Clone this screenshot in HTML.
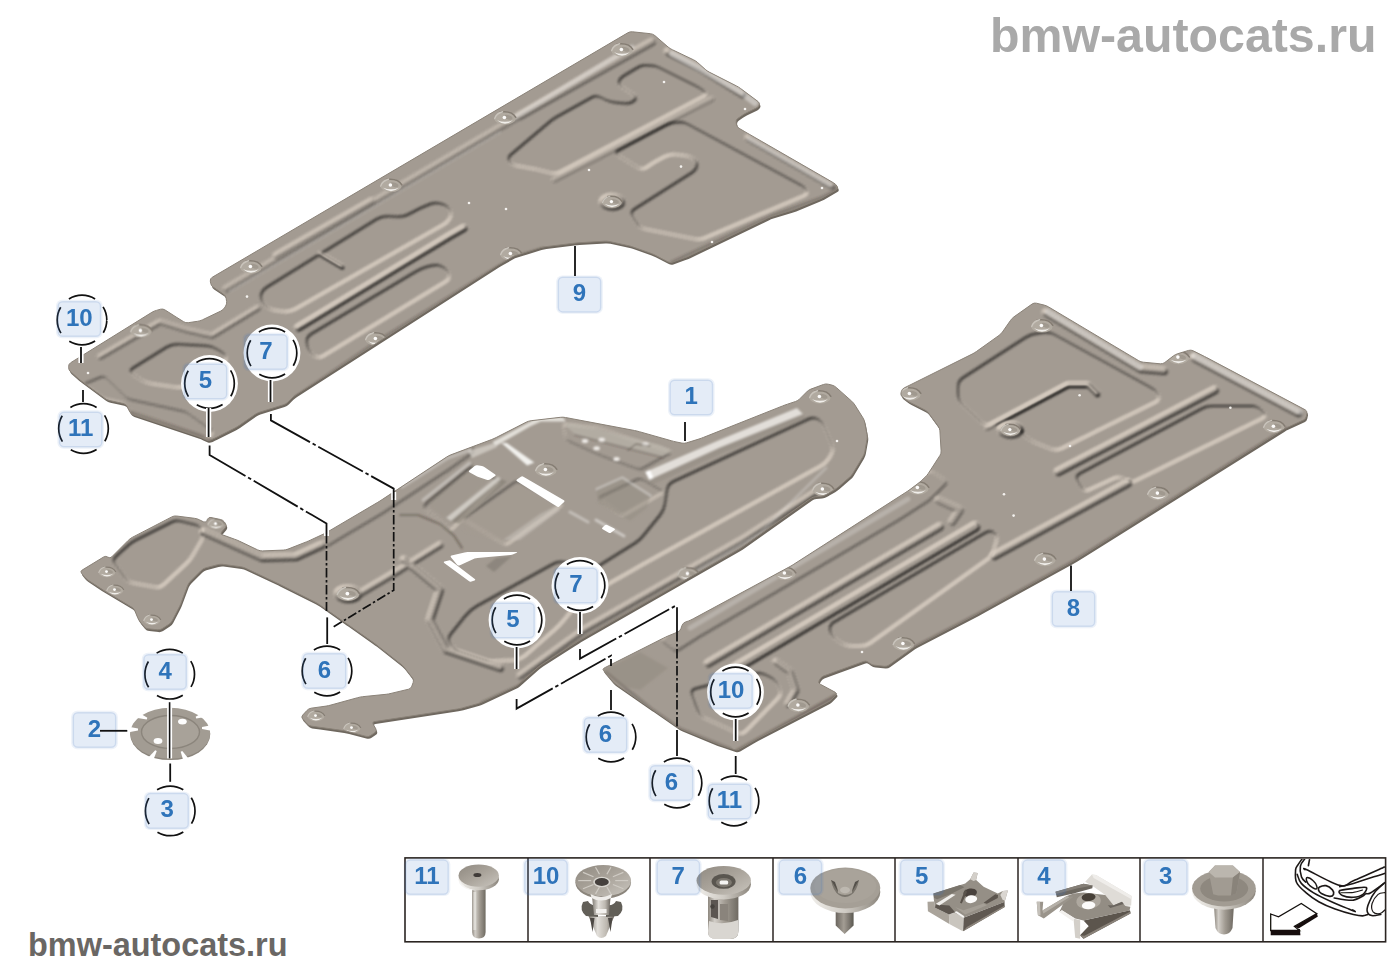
<!DOCTYPE html>
<html><head><meta charset="utf-8"><title>bmw-autocats.ru</title>
<style>
html,body{margin:0;padding:0;background:#fff;}
body{width:1400px;height:980px;overflow:hidden;position:relative;font-family:"Liberation Sans",sans-serif;}
svg{position:absolute;left:0;top:0;display:block}
.lb{font-family:"Liberation Sans",sans-serif;font-weight:bold;font-size:24px;fill:#2f74ba;text-anchor:middle;}
.wm1{position:absolute;left:990px;top:6.7px;font:bold 48.3px/56px "Liberation Sans",sans-serif;color:#a9a9a9;letter-spacing:0px;white-space:nowrap}
.wm2{position:absolute;left:28px;top:926.5px;font:bold 32.45px/36px "Liberation Sans",sans-serif;color:#6a6764;white-space:nowrap}
</style></head><body>
<svg width="1400" height="980" viewBox="0 0 1400 980">
<defs>
<filter id="emb" x="0" y="0" width="1400" height="980" filterUnits="userSpaceOnUse" color-interpolation-filters="sRGB">
<feColorMatrix in="SourceGraphic" type="luminanceToAlpha" result="lum"/>
<feGaussianBlur in="lum" stdDeviation="1.5" result="h"/>
<feDiffuseLighting in="h" surfaceScale="7" diffuseConstant="1.3" lighting-color="#a49c93" result="lit"><feDistantLight azimuth="235" elevation="50"/></feDiffuseLighting>
<feGaussianBlur in="lit" stdDeviation="0.5"/>
</filter>

<linearGradient id="gShaft" x1="0" x2="1" y1="0" y2="0"><stop offset="0" stop-color="#8d877e"/><stop offset="0.22" stop-color="#d2cec8"/><stop offset="0.55" stop-color="#a29c93"/><stop offset="1" stop-color="#6f6a62"/></linearGradient>
<linearGradient id="gHead" x1="0" x2="1" y1="0" y2="1"><stop offset="0" stop-color="#8f8980"/><stop offset="0.5" stop-color="#aaa49b"/><stop offset="1" stop-color="#c9c5be"/></linearGradient>
<linearGradient id="gRim" x1="0" x2="1" y1="0" y2="0"><stop offset="0" stop-color="#f0eeea"/><stop offset="0.5" stop-color="#cfcbc4"/><stop offset="1" stop-color="#8c867d"/></linearGradient>
<linearGradient id="gCone" x1="0" x2="1" y1="0" y2="0"><stop offset="0" stop-color="#77726a"/><stop offset="0.35" stop-color="#e2dfda"/><stop offset="0.7" stop-color="#bdb8b0"/><stop offset="1" stop-color="#66615a"/></linearGradient>
<linearGradient id="gDark" x1="0" x2="1" y1="0" y2="0"><stop offset="0" stop-color="#6a655e"/><stop offset="0.45" stop-color="#a39d94"/><stop offset="1" stop-color="#5c5851"/></linearGradient>
<filter id="soft" x="-5%" y="-5%" width="110%" height="110%"><feGaussianBlur stdDeviation="0.55"/></filter>
<filter id="soft2" x="-5%" y="-5%" width="110%" height="110%"><feGaussianBlur stdDeviation="1.0"/></filter>
</defs>
<rect width="1400" height="980" fill="#fff"/>
<g id="p9"><clipPath id="c9"><path d="M627.8,32.8 Q630.0,31.5 632.5,31.8 L650.5,33.7 Q653.0,34.0 654.9,35.6 L668.1,47.0 Q670.0,48.6 672.3,49.7 L693.7,59.9 Q696.0,61.0 697.8,62.7 L705.2,69.3 Q707.0,71.0 709.2,72.1 L736.4,85.9 Q738.6,87.0 740.6,88.5 L758.0,101.5 Q760.0,103.0 759.3,105.0 L759.3,105.0 Q758.6,107.0 756.3,108.1 L746.3,112.9 Q744.0,114.0 742.0,115.5 L737.7,118.5 Q735.7,120.0 736.2,122.5 L736.5,124.5 Q737.0,127.0 739.1,128.3 L744.9,131.7 Q747.0,133.0 749.2,134.2 L833.5,182.8 Q835.7,184.0 837.0,186.1 L837.3,186.5 Q838.6,188.6 836.4,189.8 L823.2,197.4 Q821.0,198.6 818.7,199.5 L795.3,209.1 Q793.0,210.0 790.6,210.7 L772.4,216.3 Q770.0,217.0 767.7,218.1 L689.3,255.9 Q687.0,257.0 684.6,257.8 L672.4,262.2 Q670.0,263.0 667.8,261.8 L655.2,255.2 Q653.0,254.0 650.6,253.2 L632.4,246.8 Q630.0,246.0 627.6,245.5 L609.4,241.5 Q607.0,241.0 604.5,241.2 L578.5,242.8 Q576.0,243.0 573.5,243.3 L545.5,246.7 Q543.0,247.0 540.6,247.7 L516.4,255.3 Q514.0,256.0 511.8,257.2 L502.2,262.8 Q500.0,264.0 497.9,265.3 L296.1,394.7 Q294.0,396.0 292.2,397.8 L287.8,402.2 Q286.0,404.0 283.6,404.7 L259.4,412.3 Q257.0,413.0 255.0,414.4 L239.0,425.6 Q237.0,427.0 234.8,428.1 L216.2,437.5 Q214.0,438.6 211.7,439.6 L210.9,440.0 Q208.6,441.0 206.3,439.9 L202.3,438.1 Q200.0,437.0 197.6,436.2 L133.4,414.8 Q131.0,414.0 129.8,411.8 L126.9,406.2 Q125.7,404.0 123.3,403.5 L109.4,400.5 Q107.0,400.0 105.0,398.5 L82.0,381.5 Q80.0,380.0 78.1,378.4 L70.5,371.6 Q68.6,370.0 68.6,367.5 L68.6,366.5 Q68.6,364.0 70.7,362.7 L151.9,312.3 Q154.0,311.0 156.4,310.4 L160.6,309.2 Q163.0,308.6 165.1,310.0 L171.9,314.3 Q174.0,315.7 176.1,317.0 L183.6,321.7 Q185.7,323.0 188.2,322.7 L197.5,321.3 Q200.0,321.0 202.3,319.9 L220.7,311.1 Q223.0,310.0 224.4,307.9 L225.6,306.1 Q227.0,304.0 226.6,301.5 L226.1,298.2 Q225.7,295.7 223.6,294.3 L213.1,287.1 Q211.0,285.7 210.7,283.2 L210.3,281.1 Q210.0,278.6 212.2,277.3 Z"/></clipPath>
<path d="M627.8,32.8 Q630.0,31.5 632.5,31.8 L650.5,33.7 Q653.0,34.0 654.9,35.6 L668.1,47.0 Q670.0,48.6 672.3,49.7 L693.7,59.9 Q696.0,61.0 697.8,62.7 L705.2,69.3 Q707.0,71.0 709.2,72.1 L736.4,85.9 Q738.6,87.0 740.6,88.5 L758.0,101.5 Q760.0,103.0 759.3,105.0 L759.3,105.0 Q758.6,107.0 756.3,108.1 L746.3,112.9 Q744.0,114.0 742.0,115.5 L737.7,118.5 Q735.7,120.0 736.2,122.5 L736.5,124.5 Q737.0,127.0 739.1,128.3 L744.9,131.7 Q747.0,133.0 749.2,134.2 L833.5,182.8 Q835.7,184.0 837.0,186.1 L837.3,186.5 Q838.6,188.6 836.4,189.8 L823.2,197.4 Q821.0,198.6 818.7,199.5 L795.3,209.1 Q793.0,210.0 790.6,210.7 L772.4,216.3 Q770.0,217.0 767.7,218.1 L689.3,255.9 Q687.0,257.0 684.6,257.8 L672.4,262.2 Q670.0,263.0 667.8,261.8 L655.2,255.2 Q653.0,254.0 650.6,253.2 L632.4,246.8 Q630.0,246.0 627.6,245.5 L609.4,241.5 Q607.0,241.0 604.5,241.2 L578.5,242.8 Q576.0,243.0 573.5,243.3 L545.5,246.7 Q543.0,247.0 540.6,247.7 L516.4,255.3 Q514.0,256.0 511.8,257.2 L502.2,262.8 Q500.0,264.0 497.9,265.3 L296.1,394.7 Q294.0,396.0 292.2,397.8 L287.8,402.2 Q286.0,404.0 283.6,404.7 L259.4,412.3 Q257.0,413.0 255.0,414.4 L239.0,425.6 Q237.0,427.0 234.8,428.1 L216.2,437.5 Q214.0,438.6 211.7,439.6 L210.9,440.0 Q208.6,441.0 206.3,439.9 L202.3,438.1 Q200.0,437.0 197.6,436.2 L133.4,414.8 Q131.0,414.0 129.8,411.8 L126.9,406.2 Q125.7,404.0 123.3,403.5 L109.4,400.5 Q107.0,400.0 105.0,398.5 L82.0,381.5 Q80.0,380.0 78.1,378.4 L70.5,371.6 Q68.6,370.0 68.6,367.5 L68.6,366.5 Q68.6,364.0 70.7,362.7 L151.9,312.3 Q154.0,311.0 156.4,310.4 L160.6,309.2 Q163.0,308.6 165.1,310.0 L171.9,314.3 Q174.0,315.7 176.1,317.0 L183.6,321.7 Q185.7,323.0 188.2,322.7 L197.5,321.3 Q200.0,321.0 202.3,319.9 L220.7,311.1 Q223.0,310.0 224.4,307.9 L225.6,306.1 Q227.0,304.0 226.6,301.5 L226.1,298.2 Q225.7,295.7 223.6,294.3 L213.1,287.1 Q211.0,285.7 210.7,283.2 L210.3,281.1 Q210.0,278.6 212.2,277.3 Z" transform="translate(1.0,2.3)" fill="#6f685f"/>
<g clip-path="url(#c9)"><g filter="url(#emb)"><rect x="0" y="0" width="1400" height="980" fill="#808080"/>
<polyline points="226.0,289.0 628.0,52.0" fill="none" stroke="#8e8e8e" stroke-width="5" stroke-linecap="round" stroke-linejoin="round"/>
<polyline points="276.0,256.0 372.0,201.0" fill="none" stroke="#989898" stroke-width="5" stroke-linecap="round" stroke-linejoin="round"/>
<polyline points="520.0,116.0 652.0,42.0" fill="none" stroke="#949494" stroke-width="6" stroke-linecap="round" stroke-linejoin="round"/>
<polyline points="668.0,52.0 700.0,68.0 742.0,94.0" fill="none" stroke="#a0a0a0" stroke-width="6" stroke-linecap="round" stroke-linejoin="round"/>
<polyline points="748.0,138.0 832.0,186.0" fill="none" stroke="#9a9a9a" stroke-width="5" stroke-linecap="round" stroke-linejoin="round"/>
<polyline points="100.0,357.0 160.0,322.0 186.0,330.0 212.0,336.0 258.0,308.0" fill="none" stroke="#929292" stroke-width="4" stroke-linecap="round" stroke-linejoin="round"/>
<path d="M133.0,374.3 Q128.0,371.0 133.1,367.9 L166.9,347.1 Q172.0,344.0 178.0,344.3 L206.0,345.7 Q212.0,346.0 217.1,349.2 L222.9,352.8 Q228.0,356.0 225.0,361.0 L225.0,361.0 Q222.0,366.0 216.7,368.9 L187.3,385.1 Q182.0,388.0 176.1,387.2 L151.9,383.8 Q146.0,383.0 141.0,379.7 Z" fill="#5e5e5e"/>
<path d="M101.2,377.1 Q104.0,376.0 106.2,378.1 L125.8,396.9 Q128.0,399.0 130.9,399.7 L183.1,411.3 Q186.0,412.0 188.4,413.7 L211.6,430.3 Q214.0,432.0 211.8,434.0 L207.2,438.0 Q205.0,440.0 202.2,439.0 L134.8,414.0 Q132.0,413.0 130.1,410.7 L125.9,405.3 Q124.0,403.0 121.1,402.4 L106.9,399.6 Q104.0,399.0 101.6,397.2 L86.4,385.8 Q84.0,384.0 86.8,382.9 Z" fill="#6c6c6c"/>
<path d="M264.2,304.2 Q260.0,300.0 261.0,295.0 L261.0,295.0 Q262.0,290.0 267.1,286.9 L376.9,219.1 Q382.0,216.0 388.0,216.3 L398.0,216.7 Q404.0,217.0 409.2,214.1 L414.8,210.9 Q420.0,208.0 425.6,205.9 L430.4,204.1 Q436.0,202.0 441.7,203.9 L442.3,204.1 Q448.0,206.0 450.0,210.0 L450.0,210.0 Q452.0,214.0 450.0,218.0 L450.0,218.0 Q448.0,222.0 442.8,225.0 L295.2,309.0 Q290.0,312.0 284.0,311.4 L276.0,310.6 Q270.0,310.0 265.8,305.8 Z" fill="#5e5e5e"/>
<polyline points="320.0,254.0 342.0,267.0" fill="none" stroke="#9c9c9c" stroke-width="2.5" stroke-linecap="round" stroke-linejoin="round"/>
<polyline points="298.0,328.0 450.0,236.0 464.0,228.0" fill="none" stroke="#a6a6a6" stroke-width="5" stroke-linecap="round" stroke-linejoin="round"/>
<path d="M306.8,342.9 Q306.0,337.0 311.2,333.9 L416.8,271.1 Q422.0,268.0 427.8,266.5 L432.2,265.5 Q438.0,264.0 443.0,267.0 L443.0,267.0 Q448.0,270.0 449.0,274.5 L449.0,274.5 Q450.0,279.0 444.9,282.1 L323.1,355.9 Q318.0,359.0 313.3,355.3 L312.7,354.7 Q308.0,351.0 307.2,345.1 Z" fill="#5e5e5e"/>
<path d="M509.5,161.5 Q507.0,158.0 510.8,154.8 L549.2,122.2 Q553.0,119.0 557.4,116.6 L591.6,97.4 Q596.0,95.0 600.5,97.2 L605.5,99.8 Q610.0,102.0 615.0,102.5 L625.0,103.5 Q630.0,104.0 634.0,101.0 L634.0,101.0 Q638.0,98.0 633.9,95.1 L622.1,86.9 Q618.0,84.0 619.0,81.0 L619.0,81.0 Q620.0,78.0 624.3,75.5 L637.7,67.5 Q642.0,65.0 647.0,65.4 L651.0,65.6 Q656.0,66.0 660.5,68.2 L695.5,85.8 Q700.0,88.0 704.0,91.0 L704.0,91.0 Q708.0,94.0 703.6,96.3 L560.4,171.7 Q556.0,174.0 551.1,172.9 L534.9,169.1 Q530.0,168.0 525.1,167.2 L516.9,165.8 Q512.0,165.0 509.5,161.5 Z" fill="#5e5e5e"/>
<polyline points="554.0,180.0 712.0,99.0" fill="none" stroke="#8a8a8a" stroke-width="4" stroke-linecap="round" stroke-linejoin="round"/>
<path d="M665.6,125.4 Q670.0,123.0 675.0,122.6 L679.0,122.4 Q684.0,122.0 688.4,124.4 L801.6,185.6 Q806.0,188.0 807.0,191.0 L807.0,191.0 Q808.0,194.0 803.4,196.0 L704.6,238.0 Q700.0,240.0 695.1,239.0 L644.9,229.0 Q640.0,228.0 637.4,223.8 L632.6,216.2 Q630.0,212.0 634.2,209.3 L691.8,172.7 Q696.0,170.0 697.0,166.0 L697.0,166.0 Q698.0,162.0 694.0,159.0 L694.0,159.0 Q690.0,156.0 685.0,155.5 L675.0,154.5 Q670.0,154.0 665.5,156.2 L662.5,157.8 Q658.0,160.0 653.8,162.6 L646.2,167.4 Q642.0,170.0 637.7,167.4 L618.3,155.6 Q614.0,153.0 618.4,150.6 Z" fill="#5e5e5e"/>
<ellipse cx="612" cy="202" rx="12" ry="7.5" fill="#a4a4a4"/><ellipse cx="612" cy="202" rx="5.4" ry="3.4" fill="#8a8a8a"/>
</g>
<g filter="url(#soft2)"><polyline points="512.0,119.0 632.0,47.0" fill="none" stroke="rgba(255,255,255,0.28)" stroke-width="5" stroke-linecap="round" stroke-linejoin="round"/><polyline points="672.0,54.0 700.0,69.0 742.0,93.0 755.0,103.0" fill="none" stroke="rgba(255,255,255,0.38)" stroke-width="6" stroke-linecap="round" stroke-linejoin="round"/><polyline points="749.0,139.0 830.0,185.0" fill="none" stroke="rgba(255,255,255,0.3)" stroke-width="5" stroke-linecap="round" stroke-linejoin="round"/><polyline points="230.0,291.0 500.0,132.0" fill="none" stroke="rgba(255,255,255,0.16)" stroke-width="3" stroke-linecap="round" stroke-linejoin="round"/><polyline points="296.0,397.0 378.0,341.0 500.0,265.5 514.0,257.5 543.0,248.5" fill="none" stroke="rgba(60,50,42,0.3)" stroke-width="3" stroke-linecap="round" stroke-linejoin="round"/><polyline points="672.0,262.0 770.0,216.5 822.0,197.5 838.0,189.0" fill="none" stroke="rgba(60,50,42,0.3)" stroke-width="3" stroke-linecap="round" stroke-linejoin="round"/><polyline points="132.0,413.0 200.0,436.0 209.0,440.0" fill="none" stroke="rgba(60,50,42,0.35)" stroke-width="4" stroke-linecap="round" stroke-linejoin="round"/></g>
<g filter="url(#soft)"><g class="dm" transform="translate(251,267) scale(1.2)"><ellipse rx="9" ry="5.5" fill="#b1aaa0"/><path d="M-4,-5 Q6,-6.2 9,-0.5" fill="none" stroke="#857d73" stroke-width="1.3" stroke-linecap="round"/><path d="M-8.6,0.5 Q-7,-4 -2,-5.2" fill="none" stroke="#c9c4bc" stroke-width="1.1" stroke-linecap="round"/><path d="M-6.6,1.8 Q0,7.6 6.6,1.8 Q0,4.4 -6.6,1.8Z" fill="#f0eeea"/><ellipse cx="2.4" cy="-1.4" rx="3.6" ry="1.7" fill="#8f877d" opacity="0.5" transform="rotate(18)"/><circle cx="-0.5" cy="-0.4" r="1.5" fill="#fdfcfb"/></g><g class="dm" transform="translate(141,331) scale(1.2)"><ellipse rx="9" ry="5.5" fill="#b1aaa0"/><path d="M-4,-5 Q6,-6.2 9,-0.5" fill="none" stroke="#857d73" stroke-width="1.3" stroke-linecap="round"/><path d="M-8.6,0.5 Q-7,-4 -2,-5.2" fill="none" stroke="#c9c4bc" stroke-width="1.1" stroke-linecap="round"/><path d="M-6.6,1.8 Q0,7.6 6.6,1.8 Q0,4.4 -6.6,1.8Z" fill="#f0eeea"/><ellipse cx="2.4" cy="-1.4" rx="3.6" ry="1.7" fill="#8f877d" opacity="0.5" transform="rotate(18)"/><circle cx="-0.5" cy="-0.4" r="1.5" fill="#fdfcfb"/></g><g class="dm" transform="translate(391,185.5) scale(1.2)"><ellipse rx="9" ry="5.5" fill="#b1aaa0"/><path d="M-4,-5 Q6,-6.2 9,-0.5" fill="none" stroke="#857d73" stroke-width="1.3" stroke-linecap="round"/><path d="M-8.6,0.5 Q-7,-4 -2,-5.2" fill="none" stroke="#c9c4bc" stroke-width="1.1" stroke-linecap="round"/><path d="M-6.6,1.8 Q0,7.6 6.6,1.8 Q0,4.4 -6.6,1.8Z" fill="#f0eeea"/><ellipse cx="2.4" cy="-1.4" rx="3.6" ry="1.7" fill="#8f877d" opacity="0.5" transform="rotate(18)"/><circle cx="-0.5" cy="-0.4" r="1.5" fill="#fdfcfb"/></g><g class="dm" transform="translate(505,118) scale(1.2)"><ellipse rx="9" ry="5.5" fill="#b1aaa0"/><path d="M-4,-5 Q6,-6.2 9,-0.5" fill="none" stroke="#857d73" stroke-width="1.3" stroke-linecap="round"/><path d="M-8.6,0.5 Q-7,-4 -2,-5.2" fill="none" stroke="#c9c4bc" stroke-width="1.1" stroke-linecap="round"/><path d="M-6.6,1.8 Q0,7.6 6.6,1.8 Q0,4.4 -6.6,1.8Z" fill="#f0eeea"/><ellipse cx="2.4" cy="-1.4" rx="3.6" ry="1.7" fill="#8f877d" opacity="0.5" transform="rotate(18)"/><circle cx="-0.5" cy="-0.4" r="1.5" fill="#fdfcfb"/></g><g class="dm" transform="translate(622,50) scale(1.2)"><ellipse rx="9" ry="5.5" fill="#b1aaa0"/><path d="M-4,-5 Q6,-6.2 9,-0.5" fill="none" stroke="#857d73" stroke-width="1.3" stroke-linecap="round"/><path d="M-8.6,0.5 Q-7,-4 -2,-5.2" fill="none" stroke="#c9c4bc" stroke-width="1.1" stroke-linecap="round"/><path d="M-6.6,1.8 Q0,7.6 6.6,1.8 Q0,4.4 -6.6,1.8Z" fill="#f0eeea"/><ellipse cx="2.4" cy="-1.4" rx="3.6" ry="1.7" fill="#8f877d" opacity="0.5" transform="rotate(18)"/><circle cx="-0.5" cy="-0.4" r="1.5" fill="#fdfcfb"/></g><g class="dm" transform="translate(511,254) scale(1.2)"><ellipse rx="9" ry="5.5" fill="#b1aaa0"/><path d="M-4,-5 Q6,-6.2 9,-0.5" fill="none" stroke="#857d73" stroke-width="1.3" stroke-linecap="round"/><path d="M-8.6,0.5 Q-7,-4 -2,-5.2" fill="none" stroke="#c9c4bc" stroke-width="1.1" stroke-linecap="round"/><path d="M-6.6,1.8 Q0,7.6 6.6,1.8 Q0,4.4 -6.6,1.8Z" fill="#f0eeea"/><ellipse cx="2.4" cy="-1.4" rx="3.6" ry="1.7" fill="#8f877d" opacity="0.5" transform="rotate(18)"/><circle cx="-0.5" cy="-0.4" r="1.5" fill="#fdfcfb"/></g><g class="dm" transform="translate(376,339) scale(1.2)"><ellipse rx="9" ry="5.5" fill="#b1aaa0"/><path d="M-4,-5 Q6,-6.2 9,-0.5" fill="none" stroke="#857d73" stroke-width="1.3" stroke-linecap="round"/><path d="M-8.6,0.5 Q-7,-4 -2,-5.2" fill="none" stroke="#c9c4bc" stroke-width="1.1" stroke-linecap="round"/><path d="M-6.6,1.8 Q0,7.6 6.6,1.8 Q0,4.4 -6.6,1.8Z" fill="#f0eeea"/><ellipse cx="2.4" cy="-1.4" rx="3.6" ry="1.7" fill="#8f877d" opacity="0.5" transform="rotate(18)"/><circle cx="-0.5" cy="-0.4" r="1.5" fill="#fdfcfb"/></g><g class="dm" transform="translate(612,202) scale(1.1)"><ellipse rx="9" ry="5.5" fill="#b1aaa0"/><path d="M-4,-5 Q6,-6.2 9,-0.5" fill="none" stroke="#857d73" stroke-width="1.3" stroke-linecap="round"/><path d="M-8.6,0.5 Q-7,-4 -2,-5.2" fill="none" stroke="#c9c4bc" stroke-width="1.1" stroke-linecap="round"/><path d="M-6.6,1.8 Q0,7.6 6.6,1.8 Q0,4.4 -6.6,1.8Z" fill="#f0eeea"/><ellipse cx="2.4" cy="-1.4" rx="3.6" ry="1.7" fill="#8f877d" opacity="0.5" transform="rotate(18)"/><circle cx="-0.5" cy="-0.4" r="1.5" fill="#fdfcfb"/></g></g>
</g>
<path d="M627.8,32.8 Q630.0,31.5 632.5,31.8 L650.5,33.7 Q653.0,34.0 654.9,35.6 L668.1,47.0 Q670.0,48.6 672.3,49.7 L693.7,59.9 Q696.0,61.0 697.8,62.7 L705.2,69.3 Q707.0,71.0 709.2,72.1 L736.4,85.9 Q738.6,87.0 740.6,88.5 L758.0,101.5 Q760.0,103.0 759.3,105.0 L759.3,105.0 Q758.6,107.0 756.3,108.1 L746.3,112.9 Q744.0,114.0 742.0,115.5 L737.7,118.5 Q735.7,120.0 736.2,122.5 L736.5,124.5 Q737.0,127.0 739.1,128.3 L744.9,131.7 Q747.0,133.0 749.2,134.2 L833.5,182.8 Q835.7,184.0 837.0,186.1 L837.3,186.5 Q838.6,188.6 836.4,189.8 L823.2,197.4 Q821.0,198.6 818.7,199.5 L795.3,209.1 Q793.0,210.0 790.6,210.7 L772.4,216.3 Q770.0,217.0 767.7,218.1 L689.3,255.9 Q687.0,257.0 684.6,257.8 L672.4,262.2 Q670.0,263.0 667.8,261.8 L655.2,255.2 Q653.0,254.0 650.6,253.2 L632.4,246.8 Q630.0,246.0 627.6,245.5 L609.4,241.5 Q607.0,241.0 604.5,241.2 L578.5,242.8 Q576.0,243.0 573.5,243.3 L545.5,246.7 Q543.0,247.0 540.6,247.7 L516.4,255.3 Q514.0,256.0 511.8,257.2 L502.2,262.8 Q500.0,264.0 497.9,265.3 L296.1,394.7 Q294.0,396.0 292.2,397.8 L287.8,402.2 Q286.0,404.0 283.6,404.7 L259.4,412.3 Q257.0,413.0 255.0,414.4 L239.0,425.6 Q237.0,427.0 234.8,428.1 L216.2,437.5 Q214.0,438.6 211.7,439.6 L210.9,440.0 Q208.6,441.0 206.3,439.9 L202.3,438.1 Q200.0,437.0 197.6,436.2 L133.4,414.8 Q131.0,414.0 129.8,411.8 L126.9,406.2 Q125.7,404.0 123.3,403.5 L109.4,400.5 Q107.0,400.0 105.0,398.5 L82.0,381.5 Q80.0,380.0 78.1,378.4 L70.5,371.6 Q68.6,370.0 68.6,367.5 L68.6,366.5 Q68.6,364.0 70.7,362.7 L151.9,312.3 Q154.0,311.0 156.4,310.4 L160.6,309.2 Q163.0,308.6 165.1,310.0 L171.9,314.3 Q174.0,315.7 176.1,317.0 L183.6,321.7 Q185.7,323.0 188.2,322.7 L197.5,321.3 Q200.0,321.0 202.3,319.9 L220.7,311.1 Q223.0,310.0 224.4,307.9 L225.6,306.1 Q227.0,304.0 226.6,301.5 L226.1,298.2 Q225.7,295.7 223.6,294.3 L213.1,287.1 Q211.0,285.7 210.7,283.2 L210.3,281.1 Q210.0,278.6 212.2,277.3 Z" fill="none" stroke="#8a8278" stroke-width="1"/></g>
<g id="p1"><clipPath id="c1"><path d="M81.6,573.4 Q80.0,571.4 82.1,570.1 L103.6,557.0 Q105.7,555.7 107.8,557.1 L107.9,557.2 Q110.0,558.6 111.8,556.8 L128.2,540.4 Q130.0,538.6 132.2,537.4 L171.8,516.9 Q174.0,515.7 176.5,516.0 L194.5,518.3 Q197.0,518.6 199.2,519.7 L203.5,521.8 Q205.7,522.9 206.8,520.7 L207.5,519.2 Q208.6,517.0 211.0,517.5 L220.6,519.5 Q223.0,520.0 224.4,522.0 L225.6,523.7 Q227.0,525.7 225.4,527.6 L221.6,532.1 Q220.0,534.0 222.4,534.8 L234.6,539.2 Q237.0,540.0 239.3,541.1 L257.7,549.9 Q260.0,551.0 262.5,550.9 L283.2,550.1 Q285.7,550.0 288.0,549.1 L306.3,541.9 Q308.6,541.0 310.9,539.9 L323.4,534.1 Q325.7,533.0 327.9,531.7 L377.8,502.3 Q380.0,501.0 382.1,499.6 L446.5,457.1 Q448.6,455.7 450.9,454.8 L491.7,439.5 Q494.0,438.6 496.2,437.5 L526.4,422.1 Q528.6,421.0 531.1,420.7 L560.5,417.3 Q563.0,417.0 565.5,417.5 L634.5,430.5 Q637.0,431.0 639.4,431.7 L671.2,440.7 Q673.6,441.4 676.0,441.9 L681.9,443.1 Q684.3,443.6 686.7,442.8 L699.0,439.0 Q701.4,438.2 703.7,437.3 L782.7,405.9 Q785.0,405.0 787.4,404.2 L795.5,401.5 Q797.9,400.7 799.7,398.9 L806.8,391.8 Q808.6,390.0 810.9,389.1 L823.4,384.5 Q825.7,383.6 828.1,384.2 L831.9,385.1 Q834.3,385.7 836.2,387.4 L851.7,401.2 Q853.6,402.9 854.9,405.0 L863.0,417.9 Q864.3,420.0 864.8,422.5 L867.0,434.5 Q867.5,437.0 867.0,439.5 L864.8,451.8 Q864.3,454.3 863.0,456.4 L852.7,473.6 Q851.4,475.7 849.5,477.3 L838.3,487.0 Q836.4,488.6 834.2,489.9 L825.8,494.7 Q823.6,496.0 821.1,496.2 L815.4,496.8 Q812.9,497.0 810.9,498.4 L742.0,547.2 Q740.0,548.6 737.8,549.8 L582.2,638.8 Q580.0,640.0 577.9,641.4 L542.1,664.3 Q540.0,665.7 538.1,667.3 L518.9,684.1 Q517.0,685.7 514.7,686.8 L482.3,701.9 Q480.0,703.0 477.6,703.7 L462.4,707.9 Q460.0,708.6 457.5,709.0 L374.5,721.6 Q372.0,722.0 373.2,724.2 L375.8,728.8 Q377.0,731.0 375.0,732.5 L370.6,735.5 Q368.6,737.0 366.2,736.4 L348.1,731.6 Q345.7,731.0 343.2,730.6 L311.1,726.1 Q308.6,725.7 307.0,723.8 L302.6,718.9 Q301.0,717.0 302.7,715.1 L306.9,710.5 Q308.6,708.6 311.1,708.2 L326.1,706.1 Q328.6,705.7 331.0,705.0 L357.6,697.7 Q360.0,697.0 362.5,696.7 L386.1,694.3 Q388.6,694.0 391.0,693.4 L408.6,689.2 Q411.0,688.6 411.8,686.2 L413.2,682.4 Q414.0,680.0 412.5,678.0 L404.5,667.7 Q403.0,665.7 401.0,664.2 L376.0,644.5 Q374.0,643.0 372.0,641.6 L347.7,624.4 Q345.7,623.0 343.6,621.6 L319.1,604.4 Q317.0,603.0 314.8,601.9 L279.2,584.1 Q277.0,583.0 274.7,581.9 L245.3,568.1 Q243.0,567.0 240.5,566.7 L222.5,564.3 Q220.0,564.0 217.6,564.7 L205.4,567.9 Q203.0,568.6 201.2,570.4 L190.4,581.2 Q188.6,583.0 187.7,585.3 L180.9,603.4 Q180.0,605.7 178.8,607.9 L172.2,620.8 Q171.0,623.0 168.9,624.3 L162.1,628.7 Q160.0,630.0 157.5,629.8 L148.2,628.8 Q145.7,628.6 144.1,626.7 L140.2,621.9 Q138.6,620.0 137.7,617.7 L134.9,610.9 Q134.0,608.6 131.9,607.3 L105.1,591.3 Q103.0,590.0 100.9,588.6 L87.8,580.0 Q85.7,578.6 84.1,576.6 Z"/></clipPath>
<path d="M81.6,573.4 Q80.0,571.4 82.1,570.1 L103.6,557.0 Q105.7,555.7 107.8,557.1 L107.9,557.2 Q110.0,558.6 111.8,556.8 L128.2,540.4 Q130.0,538.6 132.2,537.4 L171.8,516.9 Q174.0,515.7 176.5,516.0 L194.5,518.3 Q197.0,518.6 199.2,519.7 L203.5,521.8 Q205.7,522.9 206.8,520.7 L207.5,519.2 Q208.6,517.0 211.0,517.5 L220.6,519.5 Q223.0,520.0 224.4,522.0 L225.6,523.7 Q227.0,525.7 225.4,527.6 L221.6,532.1 Q220.0,534.0 222.4,534.8 L234.6,539.2 Q237.0,540.0 239.3,541.1 L257.7,549.9 Q260.0,551.0 262.5,550.9 L283.2,550.1 Q285.7,550.0 288.0,549.1 L306.3,541.9 Q308.6,541.0 310.9,539.9 L323.4,534.1 Q325.7,533.0 327.9,531.7 L377.8,502.3 Q380.0,501.0 382.1,499.6 L446.5,457.1 Q448.6,455.7 450.9,454.8 L491.7,439.5 Q494.0,438.6 496.2,437.5 L526.4,422.1 Q528.6,421.0 531.1,420.7 L560.5,417.3 Q563.0,417.0 565.5,417.5 L634.5,430.5 Q637.0,431.0 639.4,431.7 L671.2,440.7 Q673.6,441.4 676.0,441.9 L681.9,443.1 Q684.3,443.6 686.7,442.8 L699.0,439.0 Q701.4,438.2 703.7,437.3 L782.7,405.9 Q785.0,405.0 787.4,404.2 L795.5,401.5 Q797.9,400.7 799.7,398.9 L806.8,391.8 Q808.6,390.0 810.9,389.1 L823.4,384.5 Q825.7,383.6 828.1,384.2 L831.9,385.1 Q834.3,385.7 836.2,387.4 L851.7,401.2 Q853.6,402.9 854.9,405.0 L863.0,417.9 Q864.3,420.0 864.8,422.5 L867.0,434.5 Q867.5,437.0 867.0,439.5 L864.8,451.8 Q864.3,454.3 863.0,456.4 L852.7,473.6 Q851.4,475.7 849.5,477.3 L838.3,487.0 Q836.4,488.6 834.2,489.9 L825.8,494.7 Q823.6,496.0 821.1,496.2 L815.4,496.8 Q812.9,497.0 810.9,498.4 L742.0,547.2 Q740.0,548.6 737.8,549.8 L582.2,638.8 Q580.0,640.0 577.9,641.4 L542.1,664.3 Q540.0,665.7 538.1,667.3 L518.9,684.1 Q517.0,685.7 514.7,686.8 L482.3,701.9 Q480.0,703.0 477.6,703.7 L462.4,707.9 Q460.0,708.6 457.5,709.0 L374.5,721.6 Q372.0,722.0 373.2,724.2 L375.8,728.8 Q377.0,731.0 375.0,732.5 L370.6,735.5 Q368.6,737.0 366.2,736.4 L348.1,731.6 Q345.7,731.0 343.2,730.6 L311.1,726.1 Q308.6,725.7 307.0,723.8 L302.6,718.9 Q301.0,717.0 302.7,715.1 L306.9,710.5 Q308.6,708.6 311.1,708.2 L326.1,706.1 Q328.6,705.7 331.0,705.0 L357.6,697.7 Q360.0,697.0 362.5,696.7 L386.1,694.3 Q388.6,694.0 391.0,693.4 L408.6,689.2 Q411.0,688.6 411.8,686.2 L413.2,682.4 Q414.0,680.0 412.5,678.0 L404.5,667.7 Q403.0,665.7 401.0,664.2 L376.0,644.5 Q374.0,643.0 372.0,641.6 L347.7,624.4 Q345.7,623.0 343.6,621.6 L319.1,604.4 Q317.0,603.0 314.8,601.9 L279.2,584.1 Q277.0,583.0 274.7,581.9 L245.3,568.1 Q243.0,567.0 240.5,566.7 L222.5,564.3 Q220.0,564.0 217.6,564.7 L205.4,567.9 Q203.0,568.6 201.2,570.4 L190.4,581.2 Q188.6,583.0 187.7,585.3 L180.9,603.4 Q180.0,605.7 178.8,607.9 L172.2,620.8 Q171.0,623.0 168.9,624.3 L162.1,628.7 Q160.0,630.0 157.5,629.8 L148.2,628.8 Q145.7,628.6 144.1,626.7 L140.2,621.9 Q138.6,620.0 137.7,617.7 L134.9,610.9 Q134.0,608.6 131.9,607.3 L105.1,591.3 Q103.0,590.0 100.9,588.6 L87.8,580.0 Q85.7,578.6 84.1,576.6 Z" transform="translate(1.0,2.3)" fill="#6f685f"/>
<g clip-path="url(#c1)"><g filter="url(#emb)"><rect x="0" y="0" width="1400" height="980" fill="#808080"/>
<path d="M114.9,564.0 Q112.0,560.0 115.7,556.7 L128.3,545.3 Q132.0,542.0 136.5,539.8 L171.5,522.2 Q176.0,520.0 180.9,521.2 L195.1,524.8 Q200.0,526.0 201.9,530.6 L202.1,531.4 Q204.0,536.0 201.5,540.3 L192.5,555.7 Q190.0,560.0 186.3,563.4 L163.7,584.6 Q160.0,588.0 155.1,587.1 L132.9,582.9 Q128.0,582.0 125.1,578.0 Z" fill="#5e5e5e"/>
<polyline points="204.0,532.0 262.0,558.0 296.0,557.0 322.0,545.0" fill="none" stroke="#a0a0a0" stroke-width="6" stroke-linecap="round" stroke-linejoin="round"/>
<path d="M322.5,525.0 Q322.0,522.0 324.6,520.6 L377.4,491.4 Q380.0,490.0 382.5,488.3 L446.1,445.7 Q448.6,444.0 451.4,442.9 L467.2,437.1 Q470.0,436.0 470.7,438.9 L473.3,449.1 Q474.0,452.0 471.6,453.7 L451.0,468.3 Q448.6,470.0 446.1,471.6 L382.5,513.4 Q380.0,515.0 377.4,516.5 L328.6,545.5 Q326.0,547.0 325.5,544.0 Z" fill="#929292"/>
<polyline points="520.0,676.0 584.0,630.0 742.0,540.0 816.0,492.0" fill="none" stroke="#969696" stroke-width="5" stroke-linecap="round" stroke-linejoin="round"/>
<path d="M667.1,489.9 Q668.0,484.0 673.4,481.5 L807.6,419.5 Q813.0,417.0 817.5,419.0 L817.5,419.0 Q822.0,421.0 824.3,426.5 L831.7,444.5 Q834.0,450.0 830.9,455.1 L829.1,457.9 Q826.0,463.0 820.8,465.9 L645.2,563.1 Q640.0,566.0 634.8,569.0 L585.2,597.0 Q580.0,600.0 574.6,597.3 L565.4,592.7 Q560.0,590.0 565.1,586.8 L634.9,543.2 Q640.0,540.0 643.7,535.3 L660.3,514.7 Q664.0,510.0 664.9,504.1 Z" fill="#5e5e5e"/>
<path d="M425.3,508.9 Q423.0,507.0 425.3,505.1 L468.7,468.9 Q471.0,467.0 473.7,468.3 L497.3,479.7 Q500.0,481.0 497.9,483.1 L453.1,527.9 Q451.0,530.0 448.7,528.1 Z" fill="#6a6a6a"/>
<path d="M465.6,520.6 Q463.0,519.0 465.5,517.3 L514.5,482.7 Q517.0,481.0 519.7,482.3 L560.3,502.7 Q563.0,504.0 560.6,505.8 L508.4,543.2 Q506.0,545.0 503.4,543.4 Z" fill="#6a6a6a"/>
<path d="M563.7,427.9 Q563.0,424.0 567.0,424.4 L596.0,427.6 Q600.0,428.0 603.8,429.3 L633.2,439.7 Q637.0,441.0 640.8,442.2 L668.2,450.8 Q672.0,452.0 668.5,454.0 L643.5,468.0 Q640.0,470.0 636.3,468.6 L603.7,456.4 Q600.0,455.0 596.3,453.4 L569.7,441.6 Q566.0,440.0 565.3,436.1 Z" fill="#909090"/>
<path d="M601.2,500.4 Q598.0,498.0 601.6,496.3 L636.4,479.7 Q640.0,478.0 643.5,480.0 L660.5,490.0 Q664.0,492.0 660.5,494.0 L625.5,514.0 Q622.0,516.0 618.8,513.6 Z" fill="#6e6e6e"/>
<path d="M451.9,645.4 Q446.0,640.0 451.0,633.8 L465.0,616.2 Q470.0,610.0 477.0,606.1 L553.0,563.9 Q560.0,560.0 567.5,562.8 L592.5,572.2 Q600.0,575.0 595.0,581.2 L565.0,618.8 Q560.0,625.0 554.0,630.3 L526.0,654.7 Q520.0,660.0 512.0,660.3 L478.0,661.7 Q470.0,662.0 464.1,656.6 Z" fill="#5e5e5e"/>
<polyline points="404.0,560.0 440.0,590.0 430.0,620.0 446.0,650.0 500.0,668.0" fill="none" stroke="#a0a0a0" stroke-width="6" stroke-linecap="round" stroke-linejoin="round"/>
<polyline points="356.0,596.0 400.0,570.0 440.0,545.0" fill="none" stroke="#9a9a9a" stroke-width="5" stroke-linecap="round" stroke-linejoin="round"/>
<ellipse cx="348" cy="594" rx="13" ry="8" fill="#a4a4a4"/><ellipse cx="348" cy="594" rx="5.9" ry="3.6" fill="#8a8a8a"/>
</g>
<g filter="url(#soft2)"><polygon points="492.5,441.9 528.5,422.6 540.0,416.7 563.0,417.4 566.0,421.5 541.0,421.5 530.0,426.5 496.0,446.0" fill="#ebe8e3" fill-opacity="0.88"/><polygon points="501.5,443.1 506.7,443.1 534.3,462.4 527.2,465.6" fill="#f6f5f2" fill-opacity="0.95"/><polygon points="468.0,451.0 494.0,443.0 497.0,447.0 472.0,458.0" fill="#d8d4cd" fill-opacity="0.7"/><polyline points="402.0,487.0 448.0,458.0 470.0,450.0" fill="none" stroke="rgba(255,255,255,0.3)" stroke-width="3" stroke-linecap="round" stroke-linejoin="round"/><polyline points="423.0,500.0 469.5,463.0" fill="none" stroke="rgba(255,255,255,0.32)" stroke-width="3" stroke-linecap="round" stroke-linejoin="round"/><polyline points="425.7,502.3 472.0,465.0" fill="none" stroke="rgba(60,50,42,0.45)" stroke-width="1.6" stroke-linecap="round" stroke-linejoin="round"/><polygon points="427.0,504.0 470.0,470.0 478.0,477.0 488.0,481.0 445.0,518.0" fill="#9a9289" fill-opacity="0.35"/><polygon points="446.3,517.7 497.7,476.6 501.0,479.0 451.0,521.0" fill="#d6d2cb" fill-opacity="0.85"/><polygon points="451.0,521.0 501.0,479.0 507.0,481.5 459.0,523.5" fill="#81796f" fill-opacity="0.6"/><polygon points="459.0,523.5 516.0,482.0 556.0,506.0 548.0,512.0 503.0,540.0 490.0,538.0 466.0,532.0" fill="#a29a90" fill-opacity="0.35"/><polygon points="540.0,514.0 556.0,506.0 560.0,510.0 520.0,540.0 503.0,540.0" fill="#c9c4bc" fill-opacity="0.5"/><polyline points="400.0,515.0 418.0,515.0 440.0,524.0 454.0,535.7 462.0,548.0" fill="none" stroke="rgba(60,50,42,0.5)" stroke-width="1.6" stroke-linecap="round" stroke-linejoin="round"/><polygon points="645.4,472.0 720.0,439.8 797.0,408.0 803.0,414.0 720.0,447.6 649.3,479.7" fill="#e9e6e1" fill-opacity="0.9"/><polygon points="645.4,472.0 650.0,470.0 653.4,478.0 649.3,479.7" fill="#ffffff" fill-opacity="0.95"/><polygon points="649.3,479.7 720.0,447.6 803.0,414.0 806.0,419.0 722.0,453.0 652.0,485.0" fill="#8a8278" fill-opacity="0.35"/><polygon points="563.0,424.0 572.0,423.0 660.0,445.0 673.0,451.0 662.0,456.0 575.0,434.0" fill="#bdb7ae" fill-opacity="0.6"/><polyline points="575.0,435.0 662.0,457.0" fill="none" stroke="rgba(60,50,42,0.35)" stroke-width="1.6" stroke-linecap="round" stroke-linejoin="round"/><ellipse cx="585" cy="441.1" rx="3.2" ry="2" fill="#eeebe7"/><ellipse cx="601.7" cy="439.8" rx="3.2" ry="2" fill="#eeebe7"/><ellipse cx="596.6" cy="448.2" rx="3.2" ry="2" fill="#eeebe7"/><ellipse cx="645.4" cy="444.3" rx="3.2" ry="2" fill="#eeebe7"/><ellipse cx="616.5" cy="459.1" rx="3.2" ry="2" fill="#eeebe7"/><polyline points="628.0,450.0 636.0,444.0 650.0,446.0" fill="none" stroke="rgba(60,50,42,0.45)" stroke-width="1.3" stroke-linecap="round" stroke-linejoin="round"/><polygon points="596.6,488.7 622.3,477.1 650.5,495.1 646.7,508.0 630.0,520.8 597.8,502.8" fill="#938b81" fill-opacity="0.45"/><polyline points="596.6,489.0 622.3,477.5 650.5,495.5" fill="none" stroke="rgba(255,255,255,0.35)" stroke-width="2.4" stroke-linecap="round" stroke-linejoin="round"/><polygon points="486.0,566.0 496.0,558.0 512.0,556.0 494.0,572.0" fill="#7f786f" fill-opacity="0.6"/><polyline points="596.0,520.0 624.0,536.0" fill="none" stroke="rgba(255,255,255,0.45)" stroke-width="3" stroke-linecap="round" stroke-linejoin="round"/><polyline points="570.0,512.0 588.0,522.0" fill="none" stroke="rgba(255,255,255,0.35)" stroke-width="3" stroke-linecap="round" stroke-linejoin="round"/><polyline points="742.0,549.0 582.0,640.0 542.0,666.0 519.0,686.0 482.0,703.0" fill="none" stroke="rgba(60,50,42,0.38)" stroke-width="3" stroke-linecap="round" stroke-linejoin="round"/><polyline points="814.0,498.0 742.0,549.0" fill="none" stroke="rgba(60,50,42,0.38)" stroke-width="3" stroke-linecap="round" stroke-linejoin="round"/><polyline points="690.0,574.0 760.0,533.0 826.0,468.0" fill="none" stroke="rgba(255,255,255,0.22)" stroke-width="3" stroke-linecap="round" stroke-linejoin="round"/></g>
<g filter="url(#soft)"><g class="dm" transform="translate(546,470) scale(1.2)"><ellipse rx="9" ry="5.5" fill="#b1aaa0"/><path d="M-4,-5 Q6,-6.2 9,-0.5" fill="none" stroke="#857d73" stroke-width="1.3" stroke-linecap="round"/><path d="M-8.6,0.5 Q-7,-4 -2,-5.2" fill="none" stroke="#c9c4bc" stroke-width="1.1" stroke-linecap="round"/><path d="M-6.6,1.8 Q0,7.6 6.6,1.8 Q0,4.4 -6.6,1.8Z" fill="#f0eeea"/><ellipse cx="2.4" cy="-1.4" rx="3.6" ry="1.7" fill="#8f877d" opacity="0.5" transform="rotate(18)"/><circle cx="-0.5" cy="-0.4" r="1.5" fill="#fdfcfb"/></g><g class="dm" transform="translate(820,397) scale(1.2)"><ellipse rx="9" ry="5.5" fill="#b1aaa0"/><path d="M-4,-5 Q6,-6.2 9,-0.5" fill="none" stroke="#857d73" stroke-width="1.3" stroke-linecap="round"/><path d="M-8.6,0.5 Q-7,-4 -2,-5.2" fill="none" stroke="#c9c4bc" stroke-width="1.1" stroke-linecap="round"/><path d="M-6.6,1.8 Q0,7.6 6.6,1.8 Q0,4.4 -6.6,1.8Z" fill="#f0eeea"/><ellipse cx="2.4" cy="-1.4" rx="3.6" ry="1.7" fill="#8f877d" opacity="0.5" transform="rotate(18)"/><circle cx="-0.5" cy="-0.4" r="1.5" fill="#fdfcfb"/></g><g class="dm" transform="translate(823,489.5) scale(1.2)"><ellipse rx="9" ry="5.5" fill="#b1aaa0"/><path d="M-4,-5 Q6,-6.2 9,-0.5" fill="none" stroke="#857d73" stroke-width="1.3" stroke-linecap="round"/><path d="M-8.6,0.5 Q-7,-4 -2,-5.2" fill="none" stroke="#c9c4bc" stroke-width="1.1" stroke-linecap="round"/><path d="M-6.6,1.8 Q0,7.6 6.6,1.8 Q0,4.4 -6.6,1.8Z" fill="#f0eeea"/><ellipse cx="2.4" cy="-1.4" rx="3.6" ry="1.7" fill="#8f877d" opacity="0.5" transform="rotate(18)"/><circle cx="-0.5" cy="-0.4" r="1.5" fill="#fdfcfb"/></g><g class="dm" transform="translate(688,574) scale(1.2)"><ellipse rx="9" ry="5.5" fill="#b1aaa0"/><path d="M-4,-5 Q6,-6.2 9,-0.5" fill="none" stroke="#857d73" stroke-width="1.3" stroke-linecap="round"/><path d="M-8.6,0.5 Q-7,-4 -2,-5.2" fill="none" stroke="#c9c4bc" stroke-width="1.1" stroke-linecap="round"/><path d="M-6.6,1.8 Q0,7.6 6.6,1.8 Q0,4.4 -6.6,1.8Z" fill="#f0eeea"/><ellipse cx="2.4" cy="-1.4" rx="3.6" ry="1.7" fill="#8f877d" opacity="0.5" transform="rotate(18)"/><circle cx="-0.5" cy="-0.4" r="1.5" fill="#fdfcfb"/></g><g class="dm" transform="translate(348,594) scale(1.25)"><ellipse rx="9" ry="5.5" fill="#b1aaa0"/><path d="M-4,-5 Q6,-6.2 9,-0.5" fill="none" stroke="#857d73" stroke-width="1.3" stroke-linecap="round"/><path d="M-8.6,0.5 Q-7,-4 -2,-5.2" fill="none" stroke="#c9c4bc" stroke-width="1.1" stroke-linecap="round"/><path d="M-6.6,1.8 Q0,7.6 6.6,1.8 Q0,4.4 -6.6,1.8Z" fill="#f0eeea"/><ellipse cx="2.4" cy="-1.4" rx="3.6" ry="1.7" fill="#8f877d" opacity="0.5" transform="rotate(18)"/><circle cx="-0.5" cy="-0.4" r="1.5" fill="#fdfcfb"/></g><g class="dm" transform="translate(107,572) scale(0.95)"><ellipse rx="9" ry="5.5" fill="#b1aaa0"/><path d="M-4,-5 Q6,-6.2 9,-0.5" fill="none" stroke="#857d73" stroke-width="1.3" stroke-linecap="round"/><path d="M-8.6,0.5 Q-7,-4 -2,-5.2" fill="none" stroke="#c9c4bc" stroke-width="1.1" stroke-linecap="round"/><path d="M-6.6,1.8 Q0,7.6 6.6,1.8 Q0,4.4 -6.6,1.8Z" fill="#f0eeea"/><ellipse cx="2.4" cy="-1.4" rx="3.6" ry="1.7" fill="#8f877d" opacity="0.5" transform="rotate(18)"/><circle cx="-0.5" cy="-0.4" r="1.5" fill="#fdfcfb"/></g><g class="dm" transform="translate(115,590) scale(0.95)"><ellipse rx="9" ry="5.5" fill="#b1aaa0"/><path d="M-4,-5 Q6,-6.2 9,-0.5" fill="none" stroke="#857d73" stroke-width="1.3" stroke-linecap="round"/><path d="M-8.6,0.5 Q-7,-4 -2,-5.2" fill="none" stroke="#c9c4bc" stroke-width="1.1" stroke-linecap="round"/><path d="M-6.6,1.8 Q0,7.6 6.6,1.8 Q0,4.4 -6.6,1.8Z" fill="#f0eeea"/><ellipse cx="2.4" cy="-1.4" rx="3.6" ry="1.7" fill="#8f877d" opacity="0.5" transform="rotate(18)"/><circle cx="-0.5" cy="-0.4" r="1.5" fill="#fdfcfb"/></g><g class="dm" transform="translate(152,620) scale(0.95)"><ellipse rx="9" ry="5.5" fill="#b1aaa0"/><path d="M-4,-5 Q6,-6.2 9,-0.5" fill="none" stroke="#857d73" stroke-width="1.3" stroke-linecap="round"/><path d="M-8.6,0.5 Q-7,-4 -2,-5.2" fill="none" stroke="#c9c4bc" stroke-width="1.1" stroke-linecap="round"/><path d="M-6.6,1.8 Q0,7.6 6.6,1.8 Q0,4.4 -6.6,1.8Z" fill="#f0eeea"/><ellipse cx="2.4" cy="-1.4" rx="3.6" ry="1.7" fill="#8f877d" opacity="0.5" transform="rotate(18)"/><circle cx="-0.5" cy="-0.4" r="1.5" fill="#fdfcfb"/></g><g class="dm" transform="translate(316,716) scale(0.95)"><ellipse rx="9" ry="5.5" fill="#b1aaa0"/><path d="M-4,-5 Q6,-6.2 9,-0.5" fill="none" stroke="#857d73" stroke-width="1.3" stroke-linecap="round"/><path d="M-8.6,0.5 Q-7,-4 -2,-5.2" fill="none" stroke="#c9c4bc" stroke-width="1.1" stroke-linecap="round"/><path d="M-6.6,1.8 Q0,7.6 6.6,1.8 Q0,4.4 -6.6,1.8Z" fill="#f0eeea"/><ellipse cx="2.4" cy="-1.4" rx="3.6" ry="1.7" fill="#8f877d" opacity="0.5" transform="rotate(18)"/><circle cx="-0.5" cy="-0.4" r="1.5" fill="#fdfcfb"/></g><g class="dm" transform="translate(352,728) scale(0.95)"><ellipse rx="9" ry="5.5" fill="#b1aaa0"/><path d="M-4,-5 Q6,-6.2 9,-0.5" fill="none" stroke="#857d73" stroke-width="1.3" stroke-linecap="round"/><path d="M-8.6,0.5 Q-7,-4 -2,-5.2" fill="none" stroke="#c9c4bc" stroke-width="1.1" stroke-linecap="round"/><path d="M-6.6,1.8 Q0,7.6 6.6,1.8 Q0,4.4 -6.6,1.8Z" fill="#f0eeea"/><ellipse cx="2.4" cy="-1.4" rx="3.6" ry="1.7" fill="#8f877d" opacity="0.5" transform="rotate(18)"/><circle cx="-0.5" cy="-0.4" r="1.5" fill="#fdfcfb"/></g><g class="dm" transform="translate(216,524) scale(0.95)"><ellipse rx="9" ry="5.5" fill="#b1aaa0"/><path d="M-4,-5 Q6,-6.2 9,-0.5" fill="none" stroke="#857d73" stroke-width="1.3" stroke-linecap="round"/><path d="M-8.6,0.5 Q-7,-4 -2,-5.2" fill="none" stroke="#c9c4bc" stroke-width="1.1" stroke-linecap="round"/><path d="M-6.6,1.8 Q0,7.6 6.6,1.8 Q0,4.4 -6.6,1.8Z" fill="#f0eeea"/><ellipse cx="2.4" cy="-1.4" rx="3.6" ry="1.7" fill="#8f877d" opacity="0.5" transform="rotate(18)"/><circle cx="-0.5" cy="-0.4" r="1.5" fill="#fdfcfb"/></g></g>
</g>
<path d="M81.6,573.4 Q80.0,571.4 82.1,570.1 L103.6,557.0 Q105.7,555.7 107.8,557.1 L107.9,557.2 Q110.0,558.6 111.8,556.8 L128.2,540.4 Q130.0,538.6 132.2,537.4 L171.8,516.9 Q174.0,515.7 176.5,516.0 L194.5,518.3 Q197.0,518.6 199.2,519.7 L203.5,521.8 Q205.7,522.9 206.8,520.7 L207.5,519.2 Q208.6,517.0 211.0,517.5 L220.6,519.5 Q223.0,520.0 224.4,522.0 L225.6,523.7 Q227.0,525.7 225.4,527.6 L221.6,532.1 Q220.0,534.0 222.4,534.8 L234.6,539.2 Q237.0,540.0 239.3,541.1 L257.7,549.9 Q260.0,551.0 262.5,550.9 L283.2,550.1 Q285.7,550.0 288.0,549.1 L306.3,541.9 Q308.6,541.0 310.9,539.9 L323.4,534.1 Q325.7,533.0 327.9,531.7 L377.8,502.3 Q380.0,501.0 382.1,499.6 L446.5,457.1 Q448.6,455.7 450.9,454.8 L491.7,439.5 Q494.0,438.6 496.2,437.5 L526.4,422.1 Q528.6,421.0 531.1,420.7 L560.5,417.3 Q563.0,417.0 565.5,417.5 L634.5,430.5 Q637.0,431.0 639.4,431.7 L671.2,440.7 Q673.6,441.4 676.0,441.9 L681.9,443.1 Q684.3,443.6 686.7,442.8 L699.0,439.0 Q701.4,438.2 703.7,437.3 L782.7,405.9 Q785.0,405.0 787.4,404.2 L795.5,401.5 Q797.9,400.7 799.7,398.9 L806.8,391.8 Q808.6,390.0 810.9,389.1 L823.4,384.5 Q825.7,383.6 828.1,384.2 L831.9,385.1 Q834.3,385.7 836.2,387.4 L851.7,401.2 Q853.6,402.9 854.9,405.0 L863.0,417.9 Q864.3,420.0 864.8,422.5 L867.0,434.5 Q867.5,437.0 867.0,439.5 L864.8,451.8 Q864.3,454.3 863.0,456.4 L852.7,473.6 Q851.4,475.7 849.5,477.3 L838.3,487.0 Q836.4,488.6 834.2,489.9 L825.8,494.7 Q823.6,496.0 821.1,496.2 L815.4,496.8 Q812.9,497.0 810.9,498.4 L742.0,547.2 Q740.0,548.6 737.8,549.8 L582.2,638.8 Q580.0,640.0 577.9,641.4 L542.1,664.3 Q540.0,665.7 538.1,667.3 L518.9,684.1 Q517.0,685.7 514.7,686.8 L482.3,701.9 Q480.0,703.0 477.6,703.7 L462.4,707.9 Q460.0,708.6 457.5,709.0 L374.5,721.6 Q372.0,722.0 373.2,724.2 L375.8,728.8 Q377.0,731.0 375.0,732.5 L370.6,735.5 Q368.6,737.0 366.2,736.4 L348.1,731.6 Q345.7,731.0 343.2,730.6 L311.1,726.1 Q308.6,725.7 307.0,723.8 L302.6,718.9 Q301.0,717.0 302.7,715.1 L306.9,710.5 Q308.6,708.6 311.1,708.2 L326.1,706.1 Q328.6,705.7 331.0,705.0 L357.6,697.7 Q360.0,697.0 362.5,696.7 L386.1,694.3 Q388.6,694.0 391.0,693.4 L408.6,689.2 Q411.0,688.6 411.8,686.2 L413.2,682.4 Q414.0,680.0 412.5,678.0 L404.5,667.7 Q403.0,665.7 401.0,664.2 L376.0,644.5 Q374.0,643.0 372.0,641.6 L347.7,624.4 Q345.7,623.0 343.6,621.6 L319.1,604.4 Q317.0,603.0 314.8,601.9 L279.2,584.1 Q277.0,583.0 274.7,581.9 L245.3,568.1 Q243.0,567.0 240.5,566.7 L222.5,564.3 Q220.0,564.0 217.6,564.7 L205.4,567.9 Q203.0,568.6 201.2,570.4 L190.4,581.2 Q188.6,583.0 187.7,585.3 L180.9,603.4 Q180.0,605.7 178.8,607.9 L172.2,620.8 Q171.0,623.0 168.9,624.3 L162.1,628.7 Q160.0,630.0 157.5,629.8 L148.2,628.8 Q145.7,628.6 144.1,626.7 L140.2,621.9 Q138.6,620.0 137.7,617.7 L134.9,610.9 Q134.0,608.6 131.9,607.3 L105.1,591.3 Q103.0,590.0 100.9,588.6 L87.8,580.0 Q85.7,578.6 84.1,576.6 Z" fill="none" stroke="#8a8278" stroke-width="1"/></g>
<g id="p8"><clipPath id="c8"><path d="M1032.0,304.1 Q1034.0,302.6 1036.4,303.2 L1044.2,305.1 Q1046.6,305.7 1048.7,307.0 L1138.7,360.7 Q1140.8,362.0 1143.3,362.2 L1160.3,363.8 Q1162.8,364.0 1164.8,362.5 L1173.4,355.9 Q1175.4,354.4 1177.8,353.7 L1188.6,350.4 Q1191.0,349.7 1193.2,350.8 L1204.6,356.5 Q1206.8,357.6 1209.0,358.8 L1305.2,409.8 Q1307.4,411.0 1306.9,413.5 L1306.3,416.5 Q1305.8,419.0 1303.5,420.0 L1287.7,427.3 Q1285.4,428.3 1283.3,429.6 L1076.9,559.0 Q1074.8,560.3 1072.6,561.5 L982.2,611.3 Q980.0,612.5 977.8,613.7 L916.2,645.8 Q914.0,647.0 912.0,648.5 L889.0,665.0 Q887.0,666.5 884.5,666.3 L874.5,665.2 Q872.0,665.0 870.0,663.5 L868.0,662.0 Q866.0,660.5 863.7,661.4 L823.3,676.1 Q821.0,677.0 819.9,679.2 L819.1,680.8 Q818.0,683.0 820.2,684.2 L835.3,692.3 Q837.5,693.5 835.7,695.3 L831.8,699.2 Q830.0,701.0 827.8,702.2 L757.2,738.8 Q755.0,740.0 752.8,741.3 L739.2,749.2 Q737.0,750.5 734.6,749.7 L721.4,745.3 Q719.0,744.5 716.7,743.6 L682.3,729.5 Q680.0,728.6 677.9,727.2 L653.1,710.0 Q651.0,708.6 648.9,707.2 L616.1,684.4 Q614.0,683.0 612.4,681.1 L604.6,671.9 Q603.0,670.0 603.0,669.3 L603.0,669.3 Q603.0,668.6 605.2,667.5 L663.5,638.1 Q665.7,637.0 668.0,636.0 L677.7,632.0 Q680.0,631.0 680.9,628.7 L682.1,625.3 Q683.0,623.0 685.3,622.1 L688.7,620.9 Q691.0,620.0 693.2,618.8 L788.8,567.2 Q791.0,566.0 793.1,564.7 L905.9,492.3 Q908.0,491.0 910.0,489.5 L918.0,483.5 Q920.0,482.0 921.8,480.3 L925.2,477.1 Q927.0,475.4 928.4,473.3 L939.9,455.5 Q941.3,453.4 941.1,450.9 L939.9,430.8 Q939.7,428.3 938.2,426.3 L928.5,413.0 Q927.0,411.0 924.8,409.9 L910.5,402.7 Q908.3,401.6 906.3,400.0 L902.4,396.9 Q900.4,395.3 901.0,392.9 L901.4,391.4 Q902.0,389.0 904.2,387.9 L972.1,354.1 Q974.3,353.0 976.3,351.6 L999.0,335.4 Q1001.0,334.0 1002.4,332.0 L1010.6,320.3 Q1012.0,318.3 1014.0,316.8 Z"/></clipPath>
<path d="M1032.0,304.1 Q1034.0,302.6 1036.4,303.2 L1044.2,305.1 Q1046.6,305.7 1048.7,307.0 L1138.7,360.7 Q1140.8,362.0 1143.3,362.2 L1160.3,363.8 Q1162.8,364.0 1164.8,362.5 L1173.4,355.9 Q1175.4,354.4 1177.8,353.7 L1188.6,350.4 Q1191.0,349.7 1193.2,350.8 L1204.6,356.5 Q1206.8,357.6 1209.0,358.8 L1305.2,409.8 Q1307.4,411.0 1306.9,413.5 L1306.3,416.5 Q1305.8,419.0 1303.5,420.0 L1287.7,427.3 Q1285.4,428.3 1283.3,429.6 L1076.9,559.0 Q1074.8,560.3 1072.6,561.5 L982.2,611.3 Q980.0,612.5 977.8,613.7 L916.2,645.8 Q914.0,647.0 912.0,648.5 L889.0,665.0 Q887.0,666.5 884.5,666.3 L874.5,665.2 Q872.0,665.0 870.0,663.5 L868.0,662.0 Q866.0,660.5 863.7,661.4 L823.3,676.1 Q821.0,677.0 819.9,679.2 L819.1,680.8 Q818.0,683.0 820.2,684.2 L835.3,692.3 Q837.5,693.5 835.7,695.3 L831.8,699.2 Q830.0,701.0 827.8,702.2 L757.2,738.8 Q755.0,740.0 752.8,741.3 L739.2,749.2 Q737.0,750.5 734.6,749.7 L721.4,745.3 Q719.0,744.5 716.7,743.6 L682.3,729.5 Q680.0,728.6 677.9,727.2 L653.1,710.0 Q651.0,708.6 648.9,707.2 L616.1,684.4 Q614.0,683.0 612.4,681.1 L604.6,671.9 Q603.0,670.0 603.0,669.3 L603.0,669.3 Q603.0,668.6 605.2,667.5 L663.5,638.1 Q665.7,637.0 668.0,636.0 L677.7,632.0 Q680.0,631.0 680.9,628.7 L682.1,625.3 Q683.0,623.0 685.3,622.1 L688.7,620.9 Q691.0,620.0 693.2,618.8 L788.8,567.2 Q791.0,566.0 793.1,564.7 L905.9,492.3 Q908.0,491.0 910.0,489.5 L918.0,483.5 Q920.0,482.0 921.8,480.3 L925.2,477.1 Q927.0,475.4 928.4,473.3 L939.9,455.5 Q941.3,453.4 941.1,450.9 L939.9,430.8 Q939.7,428.3 938.2,426.3 L928.5,413.0 Q927.0,411.0 924.8,409.9 L910.5,402.7 Q908.3,401.6 906.3,400.0 L902.4,396.9 Q900.4,395.3 901.0,392.9 L901.4,391.4 Q902.0,389.0 904.2,387.9 L972.1,354.1 Q974.3,353.0 976.3,351.6 L999.0,335.4 Q1001.0,334.0 1002.4,332.0 L1010.6,320.3 Q1012.0,318.3 1014.0,316.8 Z" transform="translate(1.0,2.3)" fill="#6f685f"/>
<g clip-path="url(#c8)"><g filter="url(#emb)"><rect x="0" y="0" width="1400" height="980" fill="#808080"/>
<polyline points="1046.0,313.0 1140.0,369.0 1164.0,371.0" fill="none" stroke="#a0a0a0" stroke-width="6" stroke-linecap="round" stroke-linejoin="round"/>
<polyline points="1194.0,358.0 1298.0,413.0" fill="none" stroke="#a0a0a0" stroke-width="6" stroke-linecap="round" stroke-linejoin="round"/>
<path d="M958.0,387.0 Q958.0,381.0 963.0,377.8 L1026.0,337.2 Q1031.0,334.0 1037.0,333.4 L1044.0,332.6 Q1050.0,332.0 1055.3,334.9 L1151.7,388.1 Q1157.0,391.0 1158.5,395.5 L1158.5,395.5 Q1160.0,400.0 1154.6,402.6 L1061.4,448.4 Q1056.0,451.0 1050.4,448.8 L1036.6,443.2 Q1031.0,441.0 1026.3,437.2 L1019.7,431.8 Q1015.0,428.0 1009.0,427.4 L990.0,425.6 Q984.0,425.0 979.7,420.8 L962.3,404.2 Q958.0,400.0 958.0,394.0 Z" fill="#5e5e5e"/>
<polyline points="987.0,428.0 1068.0,385.0 1088.0,385.0 1097.0,394.0" fill="none" stroke="#8e8e8e" stroke-width="4" stroke-linecap="round" stroke-linejoin="round"/>
<polyline points="1058.0,472.0 1215.0,390.0" fill="none" stroke="#a2a2a2" stroke-width="6" stroke-linecap="round" stroke-linejoin="round"/>
<path d="M1077.5,480.4 Q1075.0,476.0 1079.4,473.7 L1202.6,408.3 Q1207.0,406.0 1212.0,406.0 L1252.0,406.0 Q1257.0,406.0 1260.5,409.5 L1263.5,412.5 Q1267.0,416.0 1262.5,418.2 L1135.5,480.8 Q1131.0,483.0 1126.7,480.5 L1123.3,478.5 Q1119.0,476.0 1114.5,478.1 L1088.5,489.9 Q1084.0,492.0 1081.5,487.6 Z" fill="#5e5e5e"/>
<polyline points="994.0,556.0 1128.0,483.0" fill="none" stroke="#a0a0a0" stroke-width="6" stroke-linecap="round" stroke-linejoin="round"/>
<path d="M663.2,642.4 Q660.0,640.0 663.0,637.4 L680.0,622.6 Q683.0,620.0 686.5,618.0 L904.5,490.0 Q908.0,488.0 911.1,485.5 L926.9,472.5 Q930.0,470.0 933.3,472.2 L944.7,479.8 Q948.0,482.0 945.2,484.8 L932.8,497.2 Q930.0,500.0 926.6,502.2 L903.4,517.3 Q900.0,519.5 896.6,521.5 L783.4,588.0 Q780.0,590.0 776.5,592.0 L703.5,634.5 Q700.0,636.5 696.6,638.7 L679.4,649.8 Q676.0,652.0 672.8,649.6 Z" fill="#939393"/>
<polyline points="708.0,663.5 940.0,526.6" fill="none" stroke="#9e9e9e" stroke-width="6" stroke-linecap="round" stroke-linejoin="round"/>
<polyline points="722.0,676.2 975.0,526.8" fill="none" stroke="#a8a8a8" stroke-width="8" stroke-linecap="round" stroke-linejoin="round"/>
<path d="M830.0,630.5 Q829.0,625.0 834.2,622.0 L984.8,533.0 Q990.0,530.0 994.0,532.5 L994.0,532.5 Q998.0,535.0 996.4,540.8 L993.6,550.2 Q992.0,556.0 987.1,559.5 L870.9,642.5 Q866.0,646.0 860.0,646.0 L852.0,646.0 Q846.0,646.0 841.0,642.7 L836.0,639.3 Q831.0,636.0 830.0,630.5 Z" fill="#5e5e5e"/>
<path d="M692.2,695.6 Q690.0,690.0 695.8,688.5 L754.2,673.5 Q760.0,672.0 765.4,674.7 L770.6,677.3 Q776.0,680.0 778.4,685.5 L779.6,688.5 Q782.0,694.0 777.8,698.3 L746.2,730.7 Q742.0,735.0 736.5,732.5 L705.5,718.5 Q700.0,716.0 697.8,710.4 Z" fill="#5e5e5e"/>
<polyline points="776.0,662.0 790.0,672.0 796.0,690.0 788.0,704.0" fill="none" stroke="#9a9a9a" stroke-width="5" stroke-linecap="round" stroke-linejoin="round"/>
<polyline points="938.0,500.0 960.0,510.0 952.0,522.0" fill="none" stroke="#949494" stroke-width="6" stroke-linecap="round" stroke-linejoin="round"/>
<ellipse cx="1010.4" cy="430" rx="12" ry="7.5" fill="#a4a4a4"/><ellipse cx="1010.4" cy="430" rx="5.4" ry="3.4" fill="#8a8a8a"/>
</g>
<g filter="url(#soft2)"><polyline points="1048.0,312.0 1140.0,367.0" fill="none" stroke="rgba(255,255,255,0.34)" stroke-width="6" stroke-linecap="round" stroke-linejoin="round"/><polyline points="1194.0,356.0 1300.0,412.0" fill="none" stroke="rgba(255,255,255,0.34)" stroke-width="6" stroke-linecap="round" stroke-linejoin="round"/><polyline points="690.0,628.0 908.0,499.0" fill="none" stroke="rgba(255,255,255,0.22)" stroke-width="5" stroke-linecap="round" stroke-linejoin="round"/><polyline points="1286.0,429.0 1075.0,561.0 980.0,613.5 914.0,648.0" fill="none" stroke="rgba(60,50,42,0.42)" stroke-width="3.4" stroke-linecap="round" stroke-linejoin="round"/><polyline points="838.0,694.5 755.0,741.0 737.0,751.0" fill="none" stroke="rgba(60,50,42,0.4)" stroke-width="3.4" stroke-linecap="round" stroke-linejoin="round"/><polyline points="606.0,672.0 651.0,709.0 680.0,729.0 730.0,749.0" fill="none" stroke="rgba(60,50,42,0.3)" stroke-width="3" stroke-linecap="round" stroke-linejoin="round"/><polygon points="603.0,670.0 640.0,652.0 668.0,668.0 640.0,690.0 620.0,686.0" fill="#8f877d" fill-opacity="0.45"/></g>
<g filter="url(#soft)"><g class="dm" transform="translate(1042,326) scale(1.2)"><ellipse rx="9" ry="5.5" fill="#b1aaa0"/><path d="M-4,-5 Q6,-6.2 9,-0.5" fill="none" stroke="#857d73" stroke-width="1.3" stroke-linecap="round"/><path d="M-8.6,0.5 Q-7,-4 -2,-5.2" fill="none" stroke="#c9c4bc" stroke-width="1.1" stroke-linecap="round"/><path d="M-6.6,1.8 Q0,7.6 6.6,1.8 Q0,4.4 -6.6,1.8Z" fill="#f0eeea"/><ellipse cx="2.4" cy="-1.4" rx="3.6" ry="1.7" fill="#8f877d" opacity="0.5" transform="rotate(18)"/><circle cx="-0.5" cy="-0.4" r="1.5" fill="#fdfcfb"/></g><g class="dm" transform="translate(910,394) scale(1.2)"><ellipse rx="9" ry="5.5" fill="#b1aaa0"/><path d="M-4,-5 Q6,-6.2 9,-0.5" fill="none" stroke="#857d73" stroke-width="1.3" stroke-linecap="round"/><path d="M-8.6,0.5 Q-7,-4 -2,-5.2" fill="none" stroke="#c9c4bc" stroke-width="1.1" stroke-linecap="round"/><path d="M-6.6,1.8 Q0,7.6 6.6,1.8 Q0,4.4 -6.6,1.8Z" fill="#f0eeea"/><ellipse cx="2.4" cy="-1.4" rx="3.6" ry="1.7" fill="#8f877d" opacity="0.5" transform="rotate(18)"/><circle cx="-0.5" cy="-0.4" r="1.5" fill="#fdfcfb"/></g><g class="dm" transform="translate(918,488) scale(1.2)"><ellipse rx="9" ry="5.5" fill="#b1aaa0"/><path d="M-4,-5 Q6,-6.2 9,-0.5" fill="none" stroke="#857d73" stroke-width="1.3" stroke-linecap="round"/><path d="M-8.6,0.5 Q-7,-4 -2,-5.2" fill="none" stroke="#c9c4bc" stroke-width="1.1" stroke-linecap="round"/><path d="M-6.6,1.8 Q0,7.6 6.6,1.8 Q0,4.4 -6.6,1.8Z" fill="#f0eeea"/><ellipse cx="2.4" cy="-1.4" rx="3.6" ry="1.7" fill="#8f877d" opacity="0.5" transform="rotate(18)"/><circle cx="-0.5" cy="-0.4" r="1.5" fill="#fdfcfb"/></g><g class="dm" transform="translate(1158,493.6) scale(1.2)"><ellipse rx="9" ry="5.5" fill="#b1aaa0"/><path d="M-4,-5 Q6,-6.2 9,-0.5" fill="none" stroke="#857d73" stroke-width="1.3" stroke-linecap="round"/><path d="M-8.6,0.5 Q-7,-4 -2,-5.2" fill="none" stroke="#c9c4bc" stroke-width="1.1" stroke-linecap="round"/><path d="M-6.6,1.8 Q0,7.6 6.6,1.8 Q0,4.4 -6.6,1.8Z" fill="#f0eeea"/><ellipse cx="2.4" cy="-1.4" rx="3.6" ry="1.7" fill="#8f877d" opacity="0.5" transform="rotate(18)"/><circle cx="-0.5" cy="-0.4" r="1.5" fill="#fdfcfb"/></g><g class="dm" transform="translate(1045,559.6) scale(1.2)"><ellipse rx="9" ry="5.5" fill="#b1aaa0"/><path d="M-4,-5 Q6,-6.2 9,-0.5" fill="none" stroke="#857d73" stroke-width="1.3" stroke-linecap="round"/><path d="M-8.6,0.5 Q-7,-4 -2,-5.2" fill="none" stroke="#c9c4bc" stroke-width="1.1" stroke-linecap="round"/><path d="M-6.6,1.8 Q0,7.6 6.6,1.8 Q0,4.4 -6.6,1.8Z" fill="#f0eeea"/><ellipse cx="2.4" cy="-1.4" rx="3.6" ry="1.7" fill="#8f877d" opacity="0.5" transform="rotate(18)"/><circle cx="-0.5" cy="-0.4" r="1.5" fill="#fdfcfb"/></g><g class="dm" transform="translate(1274,426.7) scale(1.2)"><ellipse rx="9" ry="5.5" fill="#b1aaa0"/><path d="M-4,-5 Q6,-6.2 9,-0.5" fill="none" stroke="#857d73" stroke-width="1.3" stroke-linecap="round"/><path d="M-8.6,0.5 Q-7,-4 -2,-5.2" fill="none" stroke="#c9c4bc" stroke-width="1.1" stroke-linecap="round"/><path d="M-6.6,1.8 Q0,7.6 6.6,1.8 Q0,4.4 -6.6,1.8Z" fill="#f0eeea"/><ellipse cx="2.4" cy="-1.4" rx="3.6" ry="1.7" fill="#8f877d" opacity="0.5" transform="rotate(18)"/><circle cx="-0.5" cy="-0.4" r="1.5" fill="#fdfcfb"/></g><g class="dm" transform="translate(1178.5,357.6) scale(1.2)"><ellipse rx="9" ry="5.5" fill="#b1aaa0"/><path d="M-4,-5 Q6,-6.2 9,-0.5" fill="none" stroke="#857d73" stroke-width="1.3" stroke-linecap="round"/><path d="M-8.6,0.5 Q-7,-4 -2,-5.2" fill="none" stroke="#c9c4bc" stroke-width="1.1" stroke-linecap="round"/><path d="M-6.6,1.8 Q0,7.6 6.6,1.8 Q0,4.4 -6.6,1.8Z" fill="#f0eeea"/><ellipse cx="2.4" cy="-1.4" rx="3.6" ry="1.7" fill="#8f877d" opacity="0.5" transform="rotate(18)"/><circle cx="-0.5" cy="-0.4" r="1.5" fill="#fdfcfb"/></g><g class="dm" transform="translate(785,573.5) scale(1.2)"><ellipse rx="9" ry="5.5" fill="#b1aaa0"/><path d="M-4,-5 Q6,-6.2 9,-0.5" fill="none" stroke="#857d73" stroke-width="1.3" stroke-linecap="round"/><path d="M-8.6,0.5 Q-7,-4 -2,-5.2" fill="none" stroke="#c9c4bc" stroke-width="1.1" stroke-linecap="round"/><path d="M-6.6,1.8 Q0,7.6 6.6,1.8 Q0,4.4 -6.6,1.8Z" fill="#f0eeea"/><ellipse cx="2.4" cy="-1.4" rx="3.6" ry="1.7" fill="#8f877d" opacity="0.5" transform="rotate(18)"/><circle cx="-0.5" cy="-0.4" r="1.5" fill="#fdfcfb"/></g><g class="dm" transform="translate(903.5,644) scale(1.2)"><ellipse rx="9" ry="5.5" fill="#b1aaa0"/><path d="M-4,-5 Q6,-6.2 9,-0.5" fill="none" stroke="#857d73" stroke-width="1.3" stroke-linecap="round"/><path d="M-8.6,0.5 Q-7,-4 -2,-5.2" fill="none" stroke="#c9c4bc" stroke-width="1.1" stroke-linecap="round"/><path d="M-6.6,1.8 Q0,7.6 6.6,1.8 Q0,4.4 -6.6,1.8Z" fill="#f0eeea"/><ellipse cx="2.4" cy="-1.4" rx="3.6" ry="1.7" fill="#8f877d" opacity="0.5" transform="rotate(18)"/><circle cx="-0.5" cy="-0.4" r="1.5" fill="#fdfcfb"/></g><g class="dm" transform="translate(798.5,705.5) scale(1.2)"><ellipse rx="9" ry="5.5" fill="#b1aaa0"/><path d="M-4,-5 Q6,-6.2 9,-0.5" fill="none" stroke="#857d73" stroke-width="1.3" stroke-linecap="round"/><path d="M-8.6,0.5 Q-7,-4 -2,-5.2" fill="none" stroke="#c9c4bc" stroke-width="1.1" stroke-linecap="round"/><path d="M-6.6,1.8 Q0,7.6 6.6,1.8 Q0,4.4 -6.6,1.8Z" fill="#f0eeea"/><ellipse cx="2.4" cy="-1.4" rx="3.6" ry="1.7" fill="#8f877d" opacity="0.5" transform="rotate(18)"/><circle cx="-0.5" cy="-0.4" r="1.5" fill="#fdfcfb"/></g><g class="dm" transform="translate(1010.4,430) scale(1.1)"><ellipse rx="9" ry="5.5" fill="#b1aaa0"/><path d="M-4,-5 Q6,-6.2 9,-0.5" fill="none" stroke="#857d73" stroke-width="1.3" stroke-linecap="round"/><path d="M-8.6,0.5 Q-7,-4 -2,-5.2" fill="none" stroke="#c9c4bc" stroke-width="1.1" stroke-linecap="round"/><path d="M-6.6,1.8 Q0,7.6 6.6,1.8 Q0,4.4 -6.6,1.8Z" fill="#f0eeea"/><ellipse cx="2.4" cy="-1.4" rx="3.6" ry="1.7" fill="#8f877d" opacity="0.5" transform="rotate(18)"/><circle cx="-0.5" cy="-0.4" r="1.5" fill="#fdfcfb"/></g></g>
</g>
<path d="M1032.0,304.1 Q1034.0,302.6 1036.4,303.2 L1044.2,305.1 Q1046.6,305.7 1048.7,307.0 L1138.7,360.7 Q1140.8,362.0 1143.3,362.2 L1160.3,363.8 Q1162.8,364.0 1164.8,362.5 L1173.4,355.9 Q1175.4,354.4 1177.8,353.7 L1188.6,350.4 Q1191.0,349.7 1193.2,350.8 L1204.6,356.5 Q1206.8,357.6 1209.0,358.8 L1305.2,409.8 Q1307.4,411.0 1306.9,413.5 L1306.3,416.5 Q1305.8,419.0 1303.5,420.0 L1287.7,427.3 Q1285.4,428.3 1283.3,429.6 L1076.9,559.0 Q1074.8,560.3 1072.6,561.5 L982.2,611.3 Q980.0,612.5 977.8,613.7 L916.2,645.8 Q914.0,647.0 912.0,648.5 L889.0,665.0 Q887.0,666.5 884.5,666.3 L874.5,665.2 Q872.0,665.0 870.0,663.5 L868.0,662.0 Q866.0,660.5 863.7,661.4 L823.3,676.1 Q821.0,677.0 819.9,679.2 L819.1,680.8 Q818.0,683.0 820.2,684.2 L835.3,692.3 Q837.5,693.5 835.7,695.3 L831.8,699.2 Q830.0,701.0 827.8,702.2 L757.2,738.8 Q755.0,740.0 752.8,741.3 L739.2,749.2 Q737.0,750.5 734.6,749.7 L721.4,745.3 Q719.0,744.5 716.7,743.6 L682.3,729.5 Q680.0,728.6 677.9,727.2 L653.1,710.0 Q651.0,708.6 648.9,707.2 L616.1,684.4 Q614.0,683.0 612.4,681.1 L604.6,671.9 Q603.0,670.0 603.0,669.3 L603.0,669.3 Q603.0,668.6 605.2,667.5 L663.5,638.1 Q665.7,637.0 668.0,636.0 L677.7,632.0 Q680.0,631.0 680.9,628.7 L682.1,625.3 Q683.0,623.0 685.3,622.1 L688.7,620.9 Q691.0,620.0 693.2,618.8 L788.8,567.2 Q791.0,566.0 793.1,564.7 L905.9,492.3 Q908.0,491.0 910.0,489.5 L918.0,483.5 Q920.0,482.0 921.8,480.3 L925.2,477.1 Q927.0,475.4 928.4,473.3 L939.9,455.5 Q941.3,453.4 941.1,450.9 L939.9,430.8 Q939.7,428.3 938.2,426.3 L928.5,413.0 Q927.0,411.0 924.8,409.9 L910.5,402.7 Q908.3,401.6 906.3,400.0 L902.4,396.9 Q900.4,395.3 901.0,392.9 L901.4,391.4 Q902.0,389.0 904.2,387.9 L972.1,354.1 Q974.3,353.0 976.3,351.6 L999.0,335.4 Q1001.0,334.0 1002.4,332.0 L1010.6,320.3 Q1012.0,318.3 1014.0,316.8 Z" fill="none" stroke="#8a8278" stroke-width="1"/></g>
<g id="holes"><circle cx="469" cy="203" r="1.3" fill="#f4f2ef"/><circle cx="506" cy="209" r="1.3" fill="#f4f2ef"/><circle cx="247" cy="296.6" r="1.3" fill="#f4f2ef"/><circle cx="664" cy="82" r="1.3" fill="#f4f2ef"/><circle cx="589" cy="170" r="1.3" fill="#f4f2ef"/><circle cx="681" cy="166.6" r="1.3" fill="#f4f2ef"/><circle cx="745" cy="109" r="1.3" fill="#f4f2ef"/><circle cx="822" cy="188" r="1.3" fill="#f4f2ef"/><circle cx="712" cy="242" r="1.3" fill="#f4f2ef"/><circle cx="88" cy="373" r="1.3" fill="#f4f2ef"/><circle cx="1079.6" cy="395.3" r="1.3" fill="#f4f2ef"/><circle cx="1070" cy="446" r="1.3" fill="#f4f2ef"/><circle cx="1004" cy="494.3" r="1.3" fill="#f4f2ef"/><circle cx="1013.6" cy="515.6" r="1.3" fill="#f4f2ef"/><circle cx="1230.4" cy="407.8" r="1.3" fill="#f4f2ef"/><circle cx="862" cy="652" r="1.3" fill="#f4f2ef"/><circle cx="837" cy="441" r="1.3" fill="#f4f2ef"/><path d="M469.4,472.2 Q468.1,471.4 469.3,470.4 L474.6,466.0 Q475.8,465.0 477.3,465.2 L482.0,466.1 Q483.5,466.3 484.7,467.2 L495.2,474.4 Q496.4,475.3 495.1,476.1 L490.0,479.6 Q488.7,480.4 487.3,479.9 L478.5,477.1 Q477.1,476.6 475.8,475.8 Z" fill="#fff"/><path d="M517.0,481.2 Q515.7,480.4 516.9,479.5 L520.9,476.8 Q522.1,475.9 523.4,476.7 L563.9,500.2 Q565.2,501.0 564.1,502.0 L559.2,506.4 Q558.1,507.4 556.9,506.6 L555.4,505.6 Q554.2,504.8 552.9,504.0 Z" fill="#fff"/><path d="M604.6,525.4 Q605.7,524.3 607.1,524.9 L614.3,528.4 Q615.7,529.0 614.5,529.9 L611.2,532.5 Q610.0,533.4 608.7,532.7 L602.7,529.3 Q601.4,528.6 602.5,527.5 Z" fill="#fff"/><path d="M450.9,557.2 Q450.0,556.0 451.5,555.6 L464.5,552.4 Q466.0,552.0 467.5,552.0 L516.5,552.0 Q518.0,552.0 516.7,552.7 L513.3,554.3 Q512.0,555.0 510.5,555.1 L477.5,557.9 Q476.0,558.0 474.6,558.6 L459.4,565.4 Q458.0,566.0 457.1,564.8 Z" fill="#fff"/><path d="M444.2,562.9 Q443.0,562.0 444.4,561.6 L448.6,560.4 Q450.0,560.0 451.2,560.9 L474.8,579.1 Q476.0,580.0 474.6,580.5 L471.4,581.5 Q470.0,582.0 468.8,581.1 Z" fill="#fff"/></g>
<g id="p2"><g filter="url(#soft)">
<ellipse cx="170.2" cy="734.6" rx="40" ry="25.5" fill="#8c867d"/>
<ellipse cx="170.2" cy="733.2" rx="40" ry="25.5" fill="#a29c93"/>
<ellipse cx="170.5" cy="732" rx="29" ry="16.5" fill="#a8a299" stroke="#8b857c" stroke-width="1.4"/>
<path d="M-3,-3 L7.5,-0.9 L7.5,0.9 L-3,3 Z" transform="translate(130.5,729.5) rotate(0)" fill="#fff"/>
<path d="M-3,-3 L7.5,-0.9 L7.5,0.9 L-3,3 Z" transform="translate(209.5,728) rotate(180)" fill="#fff"/>
<path d="M-3,-3 L7.5,-0.9 L7.5,0.9 L-3,3 Z" transform="translate(152,757) rotate(-58)" fill="#fff"/>
<path d="M-3,-3 L7.5,-0.9 L7.5,0.9 L-3,3 Z" transform="translate(185,758) rotate(-118)" fill="#fff"/>
<path d="M-3,-3 L7.5,-0.9 L7.5,0.9 L-3,3 Z" transform="translate(203,715) rotate(160)" fill="#fff"/>
<path d="M-3,-3 L7.5,-0.9 L7.5,0.9 L-3,3 Z" transform="translate(140,716) rotate(20)" fill="#fff"/>
<ellipse cx="182.4" cy="721.6" rx="4.4" ry="2.9" fill="#fdfdfd"/><ellipse cx="158" cy="741" rx="4.4" ry="2.9" fill="#fdfdfd"/>
</g></g>
<g id="legend"><rect x="405" y="857.9" width="980.5999999999999" height="83.89999999999998" fill="#fff" stroke="#2b2522" stroke-width="1.6"/>
<line x1="528" y1="857.9" x2="528" y2="941.8" stroke="#2b2522" stroke-width="1.5"/>
<line x1="650" y1="857.9" x2="650" y2="941.8" stroke="#2b2522" stroke-width="1.5"/>
<line x1="773" y1="857.9" x2="773" y2="941.8" stroke="#2b2522" stroke-width="1.5"/>
<line x1="895" y1="857.9" x2="895" y2="941.8" stroke="#2b2522" stroke-width="1.5"/>
<line x1="1018" y1="857.9" x2="1018" y2="941.8" stroke="#2b2522" stroke-width="1.5"/>
<line x1="1140" y1="857.9" x2="1140" y2="941.8" stroke="#2b2522" stroke-width="1.5"/>
<line x1="1263" y1="857.9" x2="1263" y2="941.8" stroke="#2b2522" stroke-width="1.5"/><g filter="url(#soft)">
<path d="M472.2,888 L472.2,932 Q472.2,938.5 478.9,938.5 Q485.6,938.5 485.6,932 L485.6,888 Z" fill="url(#gShaft)"/>
<ellipse cx="478.7" cy="879.2" rx="20.2" ry="11" fill="url(#gRim)"/>
<ellipse cx="478.7" cy="875.6" rx="20.2" ry="11.2" fill="url(#gHead)"/>
<ellipse cx="477.4" cy="875" rx="4" ry="2.1" fill="#3f3b37"/>
<path d="M459.2,880 Q463,888.5 476,890.2 Q466,891 459.6,884 Z" fill="#f7f6f4"/>
<path d="M473.4,892 L476.2,892 L476.2,930 L473.4,930 Z" fill="#e4e1dc" opacity="0.8"/>
<path d="M588.5,916 L614.4,916 L606,936 Q601,940 597,936 Z" fill="url(#gCone)"/>
<path d="M590,918 L592.5,932 L594.5,918 Z M612.5,918 L610.5,932 L608,918 Z" fill="#4d4944"/>
<path d="M583,902 Q579,910 586,916 L598,917 L598,905 Q590,906 588,901 Z" fill="#625e58"/>
<path d="M621,902 Q625,910 618,916 L606,917 L606,905 Q614,906 616,901 Z" fill="#625e58"/>
<path d="M591.5,892 L611,892 L609,915 L594,915 Z" fill="url(#gCone)"/>
<rect x="596" y="909" width="10.5" height="4" fill="#f3f1ee"/>
<ellipse cx="603.2" cy="882.6" rx="27.8" ry="16" fill="#8b857c"/>
<ellipse cx="603.2" cy="880.6" rx="27.8" ry="15.6" fill="url(#gHead)"/>
<line x1="615.2" y1="880.6" x2="628.2" y2="880.6" stroke="#cfcbc4" stroke-width="1.2"/>
<line x1="612.9" y1="884.5" x2="623.4" y2="888.8" stroke="#cfcbc4" stroke-width="1.2"/>
<line x1="606.9" y1="887.0" x2="610.9" y2="893.9" stroke="#cfcbc4" stroke-width="1.2"/>
<line x1="599.5" y1="887.0" x2="595.5" y2="893.9" stroke="#cfcbc4" stroke-width="1.2"/>
<line x1="593.5" y1="884.5" x2="583.0" y2="888.8" stroke="#cfcbc4" stroke-width="1.2"/>
<line x1="591.2" y1="880.6" x2="578.2" y2="880.6" stroke="#cfcbc4" stroke-width="1.2"/>
<line x1="593.5" y1="876.7" x2="583.0" y2="872.4" stroke="#cfcbc4" stroke-width="1.2"/>
<line x1="599.5" y1="874.2" x2="595.5" y2="867.3" stroke="#cfcbc4" stroke-width="1.2"/>
<line x1="606.9" y1="874.2" x2="610.9" y2="867.3" stroke="#cfcbc4" stroke-width="1.2"/>
<line x1="612.9" y1="876.7" x2="623.4" y2="872.4" stroke="#cfcbc4" stroke-width="1.2"/>
<ellipse cx="601.8" cy="882" rx="8.6" ry="5.2" fill="#d8d5cf"/>
<ellipse cx="601.8" cy="882" rx="7" ry="3.9" fill="#45413d"/>
<path d="M590.5,894 Q601,900 612,894 L611,898 Q601,903 591.5,898 Z" fill="#efedea"/>
<path d="M708,896 L738.4,896 L738.4,931 Q738.4,939 730,939 L716,939 Q708,939 708,931 Z" fill="url(#gShaft)"/>
<path d="M709,921 Q723,926 738,920 L738.4,931 Q738.4,939 730,939 L716,939 Q708,939 708,931 Z" fill="#d9d6d1"/>
<path d="M711,900 L718,900 L718,919 L711,917 Z" fill="#5b5751"/>
<path d="M720,904 L728,904 L728,921 L720,920 Z" fill="#8a847b"/>
<circle cx="712.5" cy="906.5" r="2.2" fill="#46423e"/>
<ellipse cx="723.7" cy="884.6" rx="27.2" ry="14.8" fill="url(#gRim)"/>
<ellipse cx="723.7" cy="880.4" rx="27.2" ry="14.4" fill="url(#gHead)"/>
<ellipse cx="723.6" cy="881.4" rx="12" ry="7.4" fill="#5a5650"/>
<ellipse cx="723.9" cy="882.6" rx="8" ry="4.6" fill="#7d786f"/>
<rect x="719.6" y="880.4" width="8.6" height="4" rx="1.5" fill="#f6f5f3"/>
<path d="M835.7,911 L853.6,911 L853.6,925.5 L844.6,934 L835.7,925.5 Z" fill="url(#gDark)"/>
<ellipse cx="845.3" cy="892" rx="35" ry="21" fill="url(#gRim)"/>
<ellipse cx="845.3" cy="888" rx="35" ry="20.4" fill="#a59f96"/>
<ellipse cx="845.3" cy="886" rx="31" ry="17" fill="#a9a39a"/>
<path d="M831,880 Q838,884 838,893 Q845,897 852,893 Q852,884 859,880 Q857,891 851,895 Q845,899 839,895 Q833,891 831,880 Z" fill="#7a756d"/>
<path d="M831,880 L838,892 L835,882 Z M859,880 L852,892 L855,882 Z" fill="#55514b"/>
<ellipse cx="845" cy="890" rx="5" ry="3.2" fill="#bdb8b0"/>
<polygon points="963.5,917.7 1004.5,901.8 1004.7,907.0 963.1,931.3" fill="#5f5851" />
<polygon points="966.9,926.9 1004.7,905.6 1004.7,907.0 963.1,931.3" fill="#8d867d" />
<polygon points="927.5,901.8 934.2,901.4 935.1,907.7 948.9,914.4 949.3,924.0 927.9,911.2" fill="#aaa49b" />
<polygon points="948.9,914.4 954.3,912.7 963.5,917.7 962.8,931.3 949.3,924.0" fill="#c9c5be" />
<polygon points="933.4,893.5 965.2,883.4 970.2,879.2 973.6,872.6 977.7,873.0 976.1,880.1 983.6,886.8 997.8,893.5 1002.8,891.0 1007.9,890.5 1004.9,901.0 1004.5,902.0 963.5,917.7 954.3,912.7 948.5,906.9 935.1,907.7 933.8,899.3" fill="#958f86" />
<polygon points="933.4,893.5 960.2,885.1 964.4,887.2 951.8,893.5 937.2,899.3 934.1,898.1" fill="#7a746c" />
<polygon points="935.1,907.7 935.9,904.4 949.3,905.6 955.1,912.3 948.9,914.4" fill="#5d5750" />
<polygon points="935.9,903.7 951.8,893.9 955.6,894.7 939.4,905.4" fill="#f1efec" />
<polygon points="954.3,912.1 956.8,911.2 964.4,916.2 963.5,917.9" fill="#f7f6f4" />
<polygon points="970.2,879.2 973.6,872.6 977.7,873.0 976.1,880.1 973.6,880.9" fill="#d3cfc9" />
<polygon points="1000.3,895.1 1002.8,891.0 1007.9,890.5 1004.9,901.0 1002.4,899.3" fill="#dad6d1" />
<ellipse cx="970.2" cy="892.8" rx="6.8" ry="4.3" fill="#4a433d" transform="rotate(-8 970.2 892.8)"/>
<ellipse cx="971.2" cy="899.2" rx="6.0" ry="3.9" fill="#fcfbfa" transform="rotate(-8 971.2 899.2)"/>
<polygon points="965.2,889.3 967.0,892.0 961.8,903.5 960.0,902.7" fill="#5a534c" />
<polygon points="983.6,902.7 995.3,894.3 998.0,895.1 997.8,898.1 986.9,903.7" fill="#5d564f" />
<polygon points="955.1,906.9 963.5,910.2 983.6,903.5 986.9,905.2 965.2,914.4" fill="#a59f96" />
<polygon points="1085.2,881.7 1091.9,874.6 1096.1,875.1 1131.6,896.0 1131.2,905.6 1125.4,906.0 1122.0,901.8 1113.6,905.2 1105.3,895.1 1093.6,886.8" fill="#dfdcd7" />
<polygon points="1091.9,874.6 1096.1,875.1 1131.6,896.0 1131.5,899.3 1093.6,878.0" fill="#efedea" />
<polygon points="1083.5,920.6 1130.0,910.2 1130.5,913.5 1083.5,938.8 1080.0,935.3 1088.6,926.1" fill="#5b544d" />
<polygon points="1080.0,935.3 1083.5,938.8 1130.5,913.5 1130.4,911.4 1084.4,935.7" fill="#8a837a" />
<polygon points="1059.3,911.9 1066.8,896.0 1073.5,893.5 1083.5,892.6 1105.3,895.1 1113.6,905.2 1122.0,901.8 1125.4,906.0 1130.4,906.8 1129.5,910.4 1083.5,920.4 1075.2,918.6 1061.8,910.2" fill="#938d84" />
<polygon points="1036.7,901.8 1043.2,901.8 1042.5,910.6 1066.8,896.0 1073.5,896.8 1043.8,918.6 1037.9,915.2" fill="#9a948b" />
<polygon points="1036.7,901.8 1040.0,901.8 1040.5,915.6 1037.9,915.2" fill="#c4c0b9" />
<polygon points="1042.5,910.6 1066.8,896.0 1069.3,897.2 1043.4,913.5" fill="#b5b0a8" />
<polygon points="1055.5,891.8 1083.5,883.8 1092.7,885.5 1092.3,888.3 1073.5,893.6 1056.8,897.3" fill="#6d6760" />
<polygon points="1055.5,891.8 1083.5,883.8 1092.7,885.5 1076.8,888.4 1056.1,893.9" fill="#857f77" />
<ellipse cx="1088.6" cy="901.2" rx="12.2" ry="8" fill="#aea89f" transform="rotate(-5 1088.6 901.2)"/>
<ellipse cx="1088.6" cy="897.2" rx="7" ry="4" fill="#463f39" transform="rotate(-5 1088.6 897.2)"/>
<ellipse cx="1088.6" cy="905.4" rx="6.8" ry="3.9" fill="#fcfbfa" transform="rotate(-5 1088.6 905.4)"/>
<polygon points="1073.5,918.6 1080.2,920.2 1080.2,938.8 1075.2,937.8" fill="#d3cfc9" />
<polygon points="1080.7,926.2 1088.6,926.1 1081.2,933.6" fill="#fdfdfc" />
<polygon points="1059.3,911.9 1062.0,910.2 1073.7,917.7 1072.8,921.2" fill="#f3f1ee" />
<polygon points="1107.8,905.2 1113.6,905.2 1122.0,901.8 1123.7,903.9 1110.3,908.1" fill="#6b655e" />
<path d="M1214.1,908 L1233.75,908 L1232.5,928 Q1230,934.5 1224,934.5 Q1218,934.5 1215.5,928 Z" fill="url(#gShaft)"/>
<ellipse cx="1223.9" cy="891.3" rx="31.8" ry="18.4" fill="url(#gRim)"/>
<ellipse cx="1223.9" cy="888.3" rx="31.8" ry="18.1" fill="#a29c93"/>
<ellipse cx="1224.2" cy="888.6" rx="24" ry="13" fill="#8e887f"/>
<polygon points="1208.75,872 1215,865.4 1232.9,865.4 1240,872 1236.4,893.4 1230,895.5 1218,895.5 1213.2,894.3" fill="#a19b92"/>
<polygon points="1208.75,872 1215,865.4 1232.9,865.4 1240,872 1232.9,877.5 1215,877.5" fill="#bbb6ae"/>
<polygon points="1232.9,877.5 1240,872 1236.4,893.4 1231,895.4" fill="#89837a"/>
</g>
<clipPath id="ccar"><rect x="1264" y="859" width="121.4" height="82"/></clipPath><g clip-path="url(#ccar)" filter="url(#soft)"><path d="M1302.2,858.7 C1301.5,859.7 1299.2,862.9 1298.1,864.7 C1297.0,866.5 1295.9,866.7 1295.6,869.7 C1295.4,872.7 1294.8,878.7 1296.6,882.5 C1298.3,886.3 1302.2,889.4 1305.9,892.6 C1309.6,895.8 1313.8,899.0 1318.7,901.7 C1323.5,904.4 1329.3,906.9 1335.1,909.0 C1340.9,911.1 1348.8,913.4 1353.4,914.5 C1358.0,915.6 1360.1,915.9 1362.5,915.9 C1365.0,915.9 1367.1,914.7 1368.0,914.5" fill="none" stroke="#1b1816" stroke-width="1.6" stroke-linecap="round" stroke-linejoin="round"/><path d="M1297.2,874.3 C1297.9,875.8 1298.6,880.4 1301.3,883.4 C1304.0,886.5 1308.2,889.5 1313.2,892.6 C1318.2,895.6 1325.5,899.0 1331.5,901.7 C1337.4,904.4 1344.9,907.4 1348.8,909.0 C1352.8,910.7 1354.6,911.4 1355.2,911.6 C1355.8,911.7 1353.0,910.2 1352.5,909.9" fill="none" stroke="#1b1816" stroke-width="1.6" stroke-linecap="round" stroke-linejoin="round"/><path d="M1305.0,858.7 C1304.2,860.0 1301.0,863.0 1300.4,866.1 C1299.8,869.1 1300.6,874.4 1301.5,877.0 C1302.4,879.7 1305.1,881.2 1305.9,882.1" fill="none" stroke="#1b1816" stroke-width="1.6" stroke-linecap="round" stroke-linejoin="round"/><path d="M1309.5,859.7 C1309.3,860.6 1308.6,864.6 1308.4,865.6" fill="none" stroke="#1b1816" stroke-width="1.6" stroke-linecap="round" stroke-linejoin="round"/><path d="M1305.0,869.7 C1305.3,869.7 1301.0,867.1 1306.8,869.7 C1312.6,872.3 1331.9,883.6 1339.7,885.4 C1347.5,887.3 1345.9,883.8 1353.4,880.7 C1360.9,877.6 1379.3,869.3 1384.5,867.0" fill="none" stroke="#1b1816" stroke-width="1.6" stroke-linecap="round" stroke-linejoin="round"/><path d="M1339.7,886.6 C1342.0,886.1 1345.9,885.6 1353.4,883.4 C1360.9,881.2 1379.3,875.0 1384.5,873.4" fill="none" stroke="#1b1816" stroke-width="1.6" stroke-linecap="round" stroke-linejoin="round"/><path d="M1307.2,877.5 C1308.3,877.5 1311.6,879.2 1313.2,880.7 C1314.8,882.1 1316.4,884.8 1316.8,886.2 C1317.3,887.5 1317.1,889.1 1315.9,888.9 C1314.7,888.8 1311.1,886.6 1309.5,885.3 C1308.0,883.9 1307.0,882.0 1306.6,880.7 C1306.2,879.4 1306.1,877.5 1307.2,877.5" fill="none" stroke="#1b1816" stroke-width="1.5" stroke-linecap="round" stroke-linejoin="round"/><path d="M1319.6,887.1 C1320.8,886.4 1323.9,885.3 1326.0,885.7 C1328.1,886.2 1331.1,888.4 1332.4,889.8 C1333.6,891.3 1333.9,893.3 1333.5,894.4 C1333.0,895.5 1331.7,896.6 1329.6,896.4 C1327.6,896.2 1323.3,894.5 1321.4,893.5 C1319.6,892.4 1318.8,891.1 1318.5,890.0 C1318.2,888.9 1318.3,887.8 1319.6,887.1" fill="none" stroke="#1b1816" stroke-width="1.7" stroke-linecap="round" stroke-linejoin="round"/><path d="M1339.7,890.7 C1341.5,889.6 1349.0,889.0 1353.4,888.4 C1357.8,887.9 1364.6,886.5 1366.2,887.5 C1367.8,888.5 1365.1,892.8 1363.0,894.4 C1360.9,896.0 1356.8,897.1 1353.4,897.3 C1350.0,897.5 1344.7,896.6 1342.4,895.5 C1340.2,894.4 1337.9,891.9 1339.7,890.7" fill="none" stroke="#1b1816" stroke-width="1.6" stroke-linecap="round" stroke-linejoin="round"/><path d="M1340.8,892.7 C1342.9,892.7 1349.8,892.8 1353.4,892.4 C1357.0,891.9 1361.0,890.4 1362.5,890.0" fill="none" stroke="#1b1816" stroke-width="1.1" stroke-linecap="round" stroke-linejoin="round"/><path d="M1334.2,898.0 C1335.9,898.3 1341.1,899.4 1344.3,899.7 C1347.5,900.0 1350.4,900.6 1353.4,900.1 C1356.5,899.5 1360.5,897.3 1362.5,896.2 C1364.6,895.2 1364.5,894.2 1365.7,893.7 C1367.0,893.1 1367.3,894.7 1370.3,893.0 C1373.4,891.3 1381.7,885.0 1384.0,883.4" fill="none" stroke="#1b1816" stroke-width="1.6" stroke-linecap="round" stroke-linejoin="round"/><path d="M1384.9,882.5 C1383.3,884.0 1377.9,888.4 1375.3,891.6 C1372.8,894.8 1370.8,898.5 1369.4,901.7 C1368.0,904.9 1366.7,908.5 1367.1,910.8 C1367.5,913.2 1369.4,915.0 1371.7,915.6 C1374.0,916.2 1379.3,914.7 1380.8,914.5" fill="none" stroke="#1b1816" stroke-width="1.6" stroke-linecap="round" stroke-linejoin="round"/><path d="M1384.9,892.6 C1383.8,892.9 1380.2,892.6 1378.1,894.4 C1376.0,896.2 1373.0,900.6 1372.1,903.5 C1371.3,906.4 1371.8,910.1 1373.1,911.8 C1374.4,913.4 1377.9,913.9 1379.9,913.6 C1381.9,913.3 1384.1,910.5 1384.9,909.9" fill="none" stroke="#1b1816" stroke-width="1.2" stroke-linecap="round" stroke-linejoin="round"/></g>
<g filter="url(#soft)">
<polygon points="1270.7,929.1 1299.9,929.1 1300.4,935.2 1270.7,935.2" fill="#14110f"/>
<polygon points="1294.4,926.4 1316.8,913.6 1317.9,916.5 1298.6,928.4" fill="#14110f"/>
<polygon points="1270.7,914.0 1278.5,916.8 1301.3,903.5 1316.8,913.6 1294.4,926.4 1299.5,930.5 1270.7,930.5" fill="#fff" stroke="#14110f" stroke-width="1.3" stroke-linejoin="miter"/>
</g><rect x="403.7" y="858.2" width="46.6" height="37.9" rx="6" ry="6" fill="rgba(66,118,190,0.095)"/><rect x="405.8" y="860.1" width="42.4" height="34.1" rx="4.5" ry="4.5" fill="rgba(66,118,190,0.05)" stroke="rgba(70,120,190,0.17)" stroke-width="1.5"/><text x="427.0" y="883.7" class="lb">11</text>
<rect x="522.7" y="858.2" width="46.6" height="37.9" rx="6" ry="6" fill="rgba(66,118,190,0.095)"/><rect x="524.8" y="860.1" width="42.4" height="34.1" rx="4.5" ry="4.5" fill="rgba(66,118,190,0.05)" stroke="rgba(70,120,190,0.17)" stroke-width="1.5"/><text x="546.0" y="883.7" class="lb">10</text>
<rect x="655.0" y="858.2" width="46.6" height="37.9" rx="6" ry="6" fill="rgba(66,118,190,0.095)"/><rect x="657.1" y="860.1" width="42.4" height="34.1" rx="4.5" ry="4.5" fill="rgba(66,118,190,0.05)" stroke="rgba(70,120,190,0.17)" stroke-width="1.5"/><text x="678.3" y="883.7" class="lb">7</text>
<rect x="777.1" y="858.2" width="46.6" height="37.9" rx="6" ry="6" fill="rgba(66,118,190,0.095)"/><rect x="779.2" y="860.1" width="42.4" height="34.1" rx="4.5" ry="4.5" fill="rgba(66,118,190,0.05)" stroke="rgba(70,120,190,0.17)" stroke-width="1.5"/><text x="800.4" y="883.7" class="lb">6</text>
<rect x="898.5" y="858.2" width="46.6" height="37.9" rx="6" ry="6" fill="rgba(66,118,190,0.095)"/><rect x="900.6" y="860.1" width="42.4" height="34.1" rx="4.5" ry="4.5" fill="rgba(66,118,190,0.05)" stroke="rgba(70,120,190,0.17)" stroke-width="1.5"/><text x="921.8" y="883.7" class="lb">5</text>
<rect x="1020.7" y="858.2" width="46.6" height="37.9" rx="6" ry="6" fill="rgba(66,118,190,0.095)"/><rect x="1022.8" y="860.1" width="42.4" height="34.1" rx="4.5" ry="4.5" fill="rgba(66,118,190,0.05)" stroke="rgba(70,120,190,0.17)" stroke-width="1.5"/><text x="1044.0" y="883.7" class="lb">4</text>
<rect x="1142.5" y="858.2" width="46.6" height="37.9" rx="6" ry="6" fill="rgba(66,118,190,0.095)"/><rect x="1144.6" y="860.1" width="42.4" height="34.1" rx="4.5" ry="4.5" fill="rgba(66,118,190,0.05)" stroke="rgba(70,120,190,0.17)" stroke-width="1.5"/><text x="1165.8" y="883.7" class="lb">3</text></g>
<g id="anno"><circle cx="82" cy="320" r="24.8" fill="none" stroke="#111" stroke-width="1.7" pathLength="360" stroke-dasharray="31 27 63 27 63 27 64 26 32 0"/>
<rect x="56.0" y="299.8" width="46.6" height="38.4" rx="6" ry="6" fill="rgba(66,118,190,0.095)"/><rect x="58.1" y="301.7" width="42.4" height="34.6" rx="4.5" ry="4.5" fill="rgba(66,118,190,0.05)" stroke="rgba(70,120,190,0.17)" stroke-width="1.5"/><text x="79.3" y="325.5" class="lb">10</text>
<circle cx="83.5" cy="428.5" r="24.8" fill="none" stroke="#111" stroke-width="1.7" pathLength="360" stroke-dasharray="31 27 63 27 63 27 64 26 32 0"/>
<rect x="57.4" y="410.3" width="46.6" height="38.4" rx="6" ry="6" fill="rgba(66,118,190,0.095)"/><rect x="59.5" y="412.2" width="42.4" height="34.6" rx="4.5" ry="4.5" fill="rgba(66,118,190,0.05)" stroke="rgba(70,120,190,0.17)" stroke-width="1.5"/><text x="80.7" y="436.0" class="lb">11</text>
<circle cx="209.5" cy="383.5" r="28.400000000000002" fill="#fff"/><circle cx="209.5" cy="383.5" r="24.8" fill="none" stroke="#111" stroke-width="1.7" pathLength="360" stroke-dasharray="31 27 63 27 63 27 64 26 32 0"/>
<rect x="182.2" y="362.3" width="46.6" height="38.4" rx="6" ry="6" fill="rgba(66,118,190,0.095)"/><rect x="184.3" y="364.2" width="42.4" height="34.6" rx="4.5" ry="4.5" fill="rgba(66,118,190,0.05)" stroke="rgba(70,120,190,0.17)" stroke-width="1.5"/><text x="205.5" y="388.0" class="lb">5</text>
<circle cx="272" cy="353" r="28.400000000000002" fill="#fff"/><circle cx="272" cy="353" r="24.8" fill="none" stroke="#111" stroke-width="1.7" pathLength="360" stroke-dasharray="31 27 63 27 63 27 64 26 32 0"/>
<rect x="242.7" y="332.8" width="46.6" height="38.4" rx="6" ry="6" fill="rgba(66,118,190,0.095)"/><rect x="244.8" y="334.7" width="42.4" height="34.6" rx="4.5" ry="4.5" fill="rgba(66,118,190,0.05)" stroke="rgba(70,120,190,0.17)" stroke-width="1.5"/><text x="266.0" y="358.5" class="lb">7</text>
<rect x="556.2" y="275.4" width="46.6" height="38.4" rx="6" ry="6" fill="rgba(66,118,190,0.095)"/><rect x="558.3" y="277.3" width="42.4" height="34.6" rx="4.5" ry="4.5" fill="rgba(66,118,190,0.05)" stroke="rgba(70,120,190,0.17)" stroke-width="1.5"/><text x="579.5" y="301.1" class="lb">9</text>
<rect x="668.0" y="378.3" width="46.6" height="38.4" rx="6" ry="6" fill="rgba(66,118,190,0.095)"/><rect x="670.1" y="380.2" width="42.4" height="34.6" rx="4.5" ry="4.5" fill="rgba(66,118,190,0.05)" stroke="rgba(70,120,190,0.17)" stroke-width="1.5"/><text x="691.3" y="404.0" class="lb">1</text>
<circle cx="517" cy="620" r="28.400000000000002" fill="#fff"/><circle cx="517" cy="620" r="24.8" fill="none" stroke="#111" stroke-width="1.7" pathLength="360" stroke-dasharray="31 27 63 27 63 27 64 26 32 0"/>
<rect x="489.7" y="601.3" width="46.6" height="38.4" rx="6" ry="6" fill="rgba(66,118,190,0.095)"/><rect x="491.8" y="603.2" width="42.4" height="34.6" rx="4.5" ry="4.5" fill="rgba(66,118,190,0.05)" stroke="rgba(70,120,190,0.17)" stroke-width="1.5"/><text x="513.0" y="627.0" class="lb">5</text>
<circle cx="580" cy="585.5" r="28.400000000000002" fill="#fff"/><circle cx="580" cy="585.5" r="24.8" fill="none" stroke="#111" stroke-width="1.7" pathLength="360" stroke-dasharray="31 27 63 27 63 27 64 26 32 0"/>
<rect x="552.7" y="566.3" width="46.6" height="38.4" rx="6" ry="6" fill="rgba(66,118,190,0.095)"/><rect x="554.8" y="568.2" width="42.4" height="34.6" rx="4.5" ry="4.5" fill="rgba(66,118,190,0.05)" stroke="rgba(70,120,190,0.17)" stroke-width="1.5"/><text x="576.0" y="592.0" class="lb">7</text>
<circle cx="327" cy="671" r="24.8" fill="none" stroke="#111" stroke-width="1.7" pathLength="360" stroke-dasharray="31 27 63 27 63 27 64 26 32 0"/>
<rect x="301.2" y="651.8" width="46.6" height="38.4" rx="6" ry="6" fill="rgba(66,118,190,0.095)"/><rect x="303.3" y="653.7" width="42.4" height="34.6" rx="4.5" ry="4.5" fill="rgba(66,118,190,0.05)" stroke="rgba(70,120,190,0.17)" stroke-width="1.5"/><text x="324.5" y="677.5" class="lb">6</text>
<circle cx="611" cy="737" r="24.8" fill="none" stroke="#111" stroke-width="1.7" pathLength="360" stroke-dasharray="31 27 63 27 63 27 64 26 32 0"/>
<rect x="582.2" y="715.8" width="46.6" height="38.4" rx="6" ry="6" fill="rgba(66,118,190,0.095)"/><rect x="584.3" y="717.7" width="42.4" height="34.6" rx="4.5" ry="4.5" fill="rgba(66,118,190,0.05)" stroke="rgba(70,120,190,0.17)" stroke-width="1.5"/><text x="605.5" y="741.5" class="lb">6</text>
<circle cx="677" cy="783" r="24.8" fill="none" stroke="#111" stroke-width="1.7" pathLength="360" stroke-dasharray="31 27 63 27 63 27 64 26 32 0"/>
<rect x="648.2" y="763.8" width="46.6" height="38.4" rx="6" ry="6" fill="rgba(66,118,190,0.095)"/><rect x="650.3" y="765.7" width="42.4" height="34.6" rx="4.5" ry="4.5" fill="rgba(66,118,190,0.05)" stroke="rgba(70,120,190,0.17)" stroke-width="1.5"/><text x="671.5" y="789.5" class="lb">6</text>
<circle cx="735.5" cy="692" r="28.400000000000002" fill="#fff"/><circle cx="735.5" cy="692" r="24.8" fill="none" stroke="#111" stroke-width="1.7" pathLength="360" stroke-dasharray="31 27 63 27 63 27 64 26 32 0"/>
<rect x="707.7" y="671.8" width="46.6" height="38.4" rx="6" ry="6" fill="rgba(66,118,190,0.095)"/><rect x="709.8" y="673.7" width="42.4" height="34.6" rx="4.5" ry="4.5" fill="rgba(66,118,190,0.05)" stroke="rgba(70,120,190,0.17)" stroke-width="1.5"/><text x="731.0" y="697.5" class="lb">10</text>
<circle cx="734" cy="801" r="24.8" fill="none" stroke="#111" stroke-width="1.7" pathLength="360" stroke-dasharray="31 27 63 27 63 27 64 26 32 0"/>
<rect x="706.2" y="782.3" width="46.6" height="38.4" rx="6" ry="6" fill="rgba(66,118,190,0.095)"/><rect x="708.3" y="784.2" width="42.4" height="34.6" rx="4.5" ry="4.5" fill="rgba(66,118,190,0.05)" stroke="rgba(70,120,190,0.17)" stroke-width="1.5"/><text x="729.5" y="808.0" class="lb">11</text>
<rect x="1050.2" y="589.8" width="46.6" height="38.4" rx="6" ry="6" fill="rgba(66,118,190,0.095)"/><rect x="1052.3" y="591.7" width="42.4" height="34.6" rx="4.5" ry="4.5" fill="rgba(66,118,190,0.05)" stroke="rgba(70,120,190,0.17)" stroke-width="1.5"/><text x="1073.5" y="615.5" class="lb">8</text>
<circle cx="169.7" cy="674.2" r="24.8" fill="none" stroke="#111" stroke-width="1.7" pathLength="360" stroke-dasharray="31 27 63 27 63 27 64 26 32 0"/>
<rect x="141.8" y="652.8" width="46.6" height="38.4" rx="6" ry="6" fill="rgba(66,118,190,0.095)"/><rect x="143.9" y="654.7" width="42.4" height="34.6" rx="4.5" ry="4.5" fill="rgba(66,118,190,0.05)" stroke="rgba(70,120,190,0.17)" stroke-width="1.5"/><text x="165.1" y="678.5" class="lb">4</text>
<circle cx="170.2" cy="810.9" r="24.8" fill="none" stroke="#111" stroke-width="1.7" pathLength="360" stroke-dasharray="31 27 63 27 63 27 64 26 32 0"/>
<rect x="143.8" y="791.7" width="46.6" height="38.4" rx="6" ry="6" fill="rgba(66,118,190,0.095)"/><rect x="145.9" y="793.6" width="42.4" height="34.6" rx="4.5" ry="4.5" fill="rgba(66,118,190,0.05)" stroke="rgba(70,120,190,0.17)" stroke-width="1.5"/><text x="167.1" y="817.4" class="lb">3</text>
<rect x="71.2" y="710.8" width="46.6" height="38.4" rx="6" ry="6" fill="rgba(66,118,190,0.095)"/><rect x="73.3" y="712.7" width="42.4" height="34.6" rx="4.5" ry="4.5" fill="rgba(66,118,190,0.05)" stroke="rgba(70,120,190,0.17)" stroke-width="1.5"/><text x="94.5" y="736.5" class="lb">2</text>
<polyline points="575.0,246.0 575.0,276.0" fill="none" stroke="#111" stroke-width="1.8"/>
<polyline points="685.0,422.0 685.0,441.0" fill="none" stroke="#111" stroke-width="1.8"/>
<polyline points="1071.0,565.5 1071.0,591.0" fill="none" stroke="#111" stroke-width="1.8"/>
<polyline points="81.0,347.0 81.0,363.0" fill="none" stroke="#fff" stroke-width="5.2"/><polyline points="81.0,347.0 81.0,363.0" fill="none" stroke="#111" stroke-width="1.8"/>
<polyline points="83.0,390.0 83.0,402.0" fill="none" stroke="#111" stroke-width="1.8"/>
<polyline points="208.6,408.0 208.6,437.0" fill="none" stroke="#fff" stroke-width="5.2"/><polyline points="208.6,408.0 208.6,437.0" fill="none" stroke="#111" stroke-width="1.8"/>
<polyline points="270.5,380.0 270.5,402.0" fill="none" stroke="#fff" stroke-width="5.2"/><polyline points="270.5,380.0 270.5,402.0" fill="none" stroke="#111" stroke-width="1.8"/>
<polyline points="516.6,647.0 516.6,669.0" fill="none" stroke="#fff" stroke-width="5.2"/><polyline points="516.6,647.0 516.6,669.0" fill="none" stroke="#111" stroke-width="1.8"/>
<polyline points="580.0,612.0 580.0,634.0" fill="none" stroke="#fff" stroke-width="5.2"/><polyline points="580.0,612.0 580.0,634.0" fill="none" stroke="#111" stroke-width="1.8"/>
<polyline points="735.7,719.0 735.7,741.0" fill="none" stroke="#fff" stroke-width="5.2"/><polyline points="735.7,719.0 735.7,741.0" fill="none" stroke="#111" stroke-width="1.8"/>
<polyline points="735.7,756.0 735.7,774.0" fill="none" stroke="#111" stroke-width="1.8"/>
<polyline points="611.0,690.0 611.0,710.0" fill="none" stroke="#111" stroke-width="1.8"/>
<polyline points="327.2,617.4 327.2,644.0" fill="none" stroke="#111" stroke-width="1.8"/>
<polyline points="100.0,730.8 127.3,730.8" fill="none" stroke="#111" stroke-width="1.8"/>
<polyline points="169.6,702.2 169.6,758.4" fill="none" stroke="#fff" stroke-width="5.0"/><polyline points="169.6,702.2 169.6,758.4" fill="none" stroke="#111" stroke-width="1.6"/>
<polyline points="170.2,763.5 170.2,781.8" fill="none" stroke="#111" stroke-width="1.8"/>
<rect x="324" y="528" width="5" height="8" fill="#fff"/><rect x="391.2" y="492" width="5" height="8" fill="#fff"/>
<polyline points="209.6,445.6 209.6,455.0 326.5,523.5 326.5,534.0" fill="none" stroke="#111" stroke-width="1.8" stroke-dasharray="51 3 3.5 3"/>
<polyline points="326.5,534.0 326.5,611.0" fill="none" stroke="#111" stroke-width="1.7" stroke-dasharray="9.5 2.5 2.5 2.5"/>
<polyline points="270.9,414.1 270.9,420.4 393.7,488.6 393.7,498.0" fill="none" stroke="#111" stroke-width="1.8" stroke-dasharray="51 3 3.5 3"/>
<polyline points="393.7,498.0 393.7,590.2 331.7,628.0" fill="none" stroke="#111" stroke-width="1.7" stroke-dasharray="9.5 2.5 2.5 2.5"/>
<polyline points="516.6,699.0 516.6,708.6 611.0,655.7 611.0,666.0" fill="none" stroke="#111" stroke-width="1.8" stroke-dasharray="51 3 3.5 3"/>
<polyline points="580.0,649.0 580.0,658.6 675.7,605.7 677.0,607.0 677.0,632.0" fill="none" stroke="#111" stroke-width="1.8" stroke-dasharray="51 3 3.5 3"/>
<polyline points="677.0,632.0 677.0,728.0" fill="none" stroke="#111" stroke-width="1.7" stroke-dasharray="9.5 2.5 2.5 2.5"/>
<polyline points="677.0,730.0 677.0,756.0" fill="none" stroke="#111" stroke-width="1.8"/></g>
</svg>
<div class="wm1">bmw-autocats.ru</div><div class="wm2">bmw-autocats.ru</div>
</body></html>
